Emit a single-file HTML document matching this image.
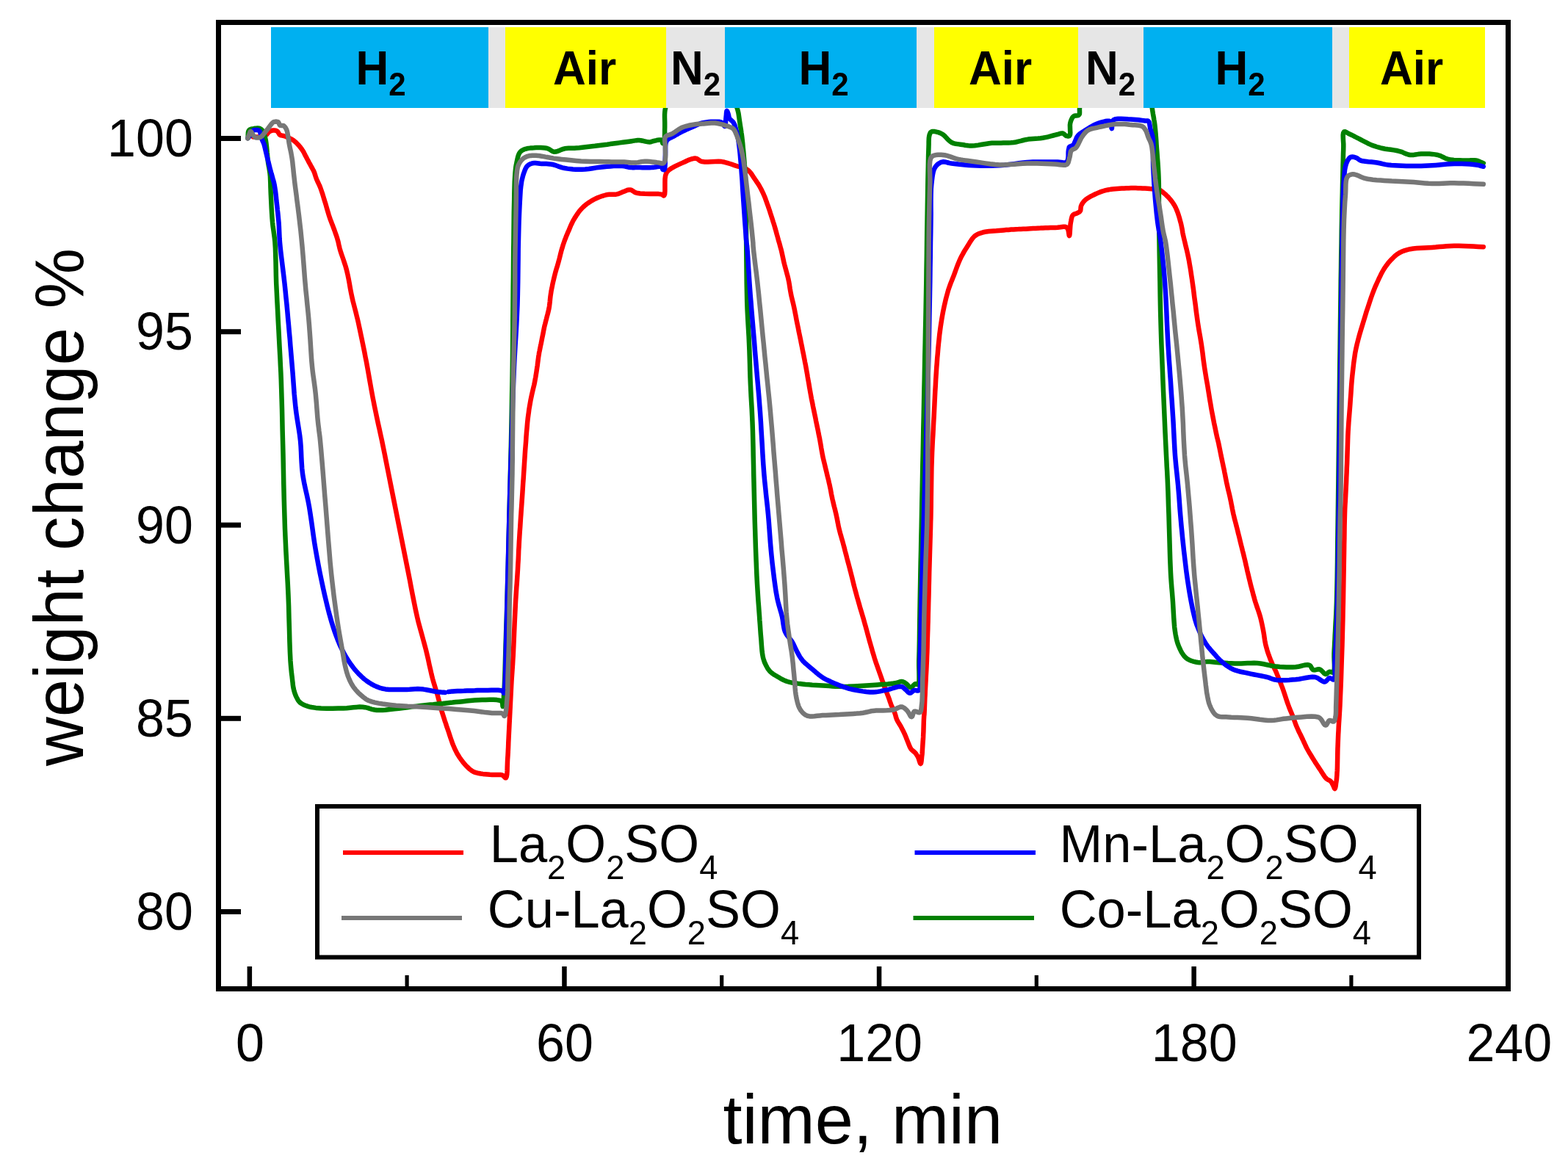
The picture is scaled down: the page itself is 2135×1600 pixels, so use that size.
<!DOCTYPE html>
<html><head><meta charset="utf-8"><title>weight change</title>
<style>html,body{margin:0;padding:0;background:#fff;}svg{display:block;}
text{font-family:"Liberation Sans",Arial,sans-serif;fill:#000;}</style></head>
<body><svg xmlns="http://www.w3.org/2000/svg" width="2135" height="1600" viewBox="0 0 2135 1600">
<rect x="0" y="0" width="2135" height="1600" fill="#fff"/>

<g fill="none" stroke-width="6.5" stroke-linejoin="round" stroke-linecap="round">
<polyline stroke="#ff0000" points="345.0,186.5 346.2,186.5 347.4,186.5 348.6,186.5 349.8,186.5 350.9,186.5 352.0,186.5 352.9,186.5 353.8,186.4 354.6,186.3 355.5,186.2 356.3,186.1 357.0,186.0 357.6,185.9 358.1,185.7 358.6,185.6 359.1,185.4 359.5,185.2 360.0,185.0 360.4,184.8 360.8,184.7 361.2,184.5 361.6,184.3 362.1,184.0 362.5,183.8 363.2,183.1 364.0,182.2 364.8,181.2 365.7,180.3 366.6,179.4 367.5,178.8 368.5,178.3 369.5,178.0 370.6,177.7 371.7,177.6 372.8,177.5 373.8,177.5 374.4,177.6 375.1,177.7 375.7,177.9 376.3,178.1 376.9,178.4 377.5,178.8 378.2,179.4 378.8,180.3 379.3,181.2 379.9,182.2 380.5,183.1 381.2,183.8 382.0,184.1 382.8,184.4 383.6,184.5 384.4,184.6 385.3,184.8 386.2,185.0 387.7,185.5 389.2,186.0 390.9,186.7 392.5,187.3 394.1,188.0 395.6,188.8 396.8,189.4 397.8,190.0 398.9,190.7 399.9,191.4 400.9,192.2 401.9,193.0 403.0,194.0 404.0,195.0 405.1,196.1 406.1,197.2 407.1,198.3 408.0,199.4 408.8,200.4 409.6,201.4 410.3,202.4 411.1,203.4 411.8,204.5 412.5,205.6 413.4,207.0 414.2,208.6 415.0,210.2 415.8,211.8 416.7,213.4 417.5,215.0 418.3,216.6 419.2,218.1 420.0,219.7 420.8,221.3 421.7,222.8 422.5,224.4 423.4,226.0 424.2,227.5 425.1,229.0 425.9,230.6 426.8,232.1 427.5,233.8 428.2,235.4 428.7,237.1 429.3,238.8 429.8,240.5 430.4,242.3 431.0,244.0 431.8,245.8 432.6,247.5 433.4,249.3 434.3,251.1 435.2,253.0 436.0,255.0 437.1,258.0 438.2,261.2 439.3,264.6 440.4,268.1 441.4,271.6 442.5,275.0 443.6,278.5 444.6,282.1 445.6,285.6 446.7,289.2 447.7,292.7 448.8,296.0 449.8,298.9 450.9,301.7 451.9,304.4 453.0,307.1 454.0,309.8 455.0,312.5 455.9,315.0 456.8,317.6 457.7,320.1 458.5,322.6 459.3,325.1 460.0,327.5 460.6,329.6 461.0,331.6 461.4,333.5 461.9,335.5 462.4,337.7 463.0,340.0 464.2,343.9 465.7,348.2 467.3,352.8 468.9,357.6 470.5,362.5 471.9,367.5 473.3,373.4 474.6,379.7 475.8,386.1 476.9,392.6 478.1,398.9 479.4,405.0 480.6,410.2 481.9,415.3 483.2,420.3 484.5,425.3 485.7,430.2 486.9,435.0 487.9,439.4 488.8,443.6 489.7,447.8 490.6,452.0 491.5,456.4 492.5,461.0 493.7,466.9 495.0,473.1 496.3,479.5 497.5,486.0 498.8,492.4 500.0,498.8 501.1,505.0 502.2,511.3 503.3,517.6 504.4,523.8 505.5,530.0 506.6,536.0 507.6,541.5 508.7,546.9 509.7,552.2 510.8,557.4 511.9,562.7 513.0,568.0 514.1,573.2 515.2,578.3 516.4,583.4 517.5,588.6 518.7,594.1 520.0,600.0 521.8,608.9 523.8,618.6 525.8,628.8 527.9,639.3 530.0,649.8 532.0,660.0 534.0,670.0 536.0,680.0 538.0,690.0 540.0,700.0 542.0,710.0 544.0,720.0 546.0,730.0 548.0,740.0 550.0,750.0 552.0,760.0 554.0,770.0 556.0,780.0 558.0,790.1 559.9,800.3 561.9,810.6 563.9,820.7 565.9,830.5 568.0,840.0 569.9,847.9 572.0,855.6 574.1,863.1 576.1,870.5 578.1,877.8 580.0,885.0 581.6,891.8 583.2,898.6 584.6,905.3 586.1,911.8 587.5,918.1 589.0,924.0 590.2,928.3 591.4,932.3 592.6,936.2 593.7,939.9 594.9,943.7 596.0,947.5 597.0,951.3 598.0,955.0 599.0,958.8 599.9,962.5 600.9,966.3 602.0,970.0 603.2,973.8 604.4,977.5 605.6,981.3 606.9,985.0 608.1,988.8 609.4,992.5 610.7,996.3 612.0,1000.3 613.3,1004.2 614.6,1008.0 615.9,1011.7 617.2,1015.0 618.2,1017.3 619.1,1019.4 620.0,1021.3 621.0,1023.2 621.9,1025.1 623.0,1027.0 624.1,1028.8 625.3,1030.7 626.5,1032.5 627.7,1034.2 629.0,1035.9 630.2,1037.5 631.3,1038.9 632.4,1040.2 633.5,1041.5 634.7,1042.7 635.8,1043.9 637.0,1045.0 638.1,1046.0 639.2,1047.1 640.4,1048.0 641.6,1048.9 642.8,1049.8 644.0,1050.5 645.2,1051.1 646.5,1051.6 647.7,1052.0 649.0,1052.3 650.5,1052.7 652.0,1053.0 654.6,1053.5 657.5,1053.9 660.7,1054.2 663.9,1054.5 667.0,1054.8 670.0,1055.0 672.5,1055.1 675.1,1055.0 677.6,1054.9 680.0,1054.9 682.2,1055.1 684.0,1055.5 685.0,1056.1 685.9,1057.0 686.7,1057.9 687.5,1058.7 688.1,1059.2 688.8,1059.3 689.7,1057.7 690.3,1054.4 690.6,1049.9 690.7,1044.6 690.9,1039.3 691.1,1034.4 691.5,1028.8 691.8,1023.0 692.1,1017.0 692.3,1010.9 692.6,1004.8 692.9,998.8 693.2,992.9 693.5,986.9 693.8,981.0 694.1,975.0 694.4,969.0 694.7,963.1 695.0,957.2 695.3,951.2 695.6,945.3 695.9,939.4 696.2,933.4 696.5,927.5 696.9,921.6 697.3,915.7 697.7,909.9 698.1,904.0 698.4,898.0 698.8,891.9 699.1,885.1 699.4,878.1 699.7,871.0 700.0,863.9 700.3,856.9 700.6,850.0 700.9,843.6 701.2,837.3 701.5,831.1 701.8,824.9 702.1,818.7 702.5,812.5 702.9,806.2 703.3,800.0 703.8,793.8 704.2,787.5 704.6,781.3 705.0,775.0 705.3,768.8 705.7,762.5 706.0,756.2 706.2,750.0 706.6,743.7 706.9,737.5 707.3,731.1 707.7,724.5 708.2,717.9 708.6,711.5 709.0,705.4 709.4,700.0 709.6,696.8 709.8,693.9 710.0,691.2 710.2,688.6 710.4,685.7 710.6,682.5 711.0,677.1 711.4,671.0 711.8,664.6 712.2,658.0 712.7,651.4 713.1,645.0 713.5,638.7 713.9,632.5 714.3,626.2 714.7,620.0 715.1,613.7 715.6,607.5 716.1,601.2 716.5,594.7 717.0,588.3 717.6,581.9 718.1,575.8 718.7,570.0 719.3,565.5 719.9,561.3 720.4,557.2 721.1,553.1 721.8,549.1 722.5,545.0 723.4,540.8 724.3,536.5 725.3,532.3 726.3,528.1 727.3,524.0 728.1,520.0 728.7,516.7 729.3,513.5 729.8,510.3 730.3,507.2 730.8,504.1 731.2,501.0 731.7,497.9 732.1,494.7 732.5,491.5 732.9,488.4 733.3,485.4 733.8,482.5 734.1,480.3 734.6,478.1 735.0,476.1 735.4,474.1 735.8,472.1 736.2,470.0 736.7,467.9 737.1,465.8 737.5,463.8 737.9,461.7 738.3,459.6 738.8,457.5 739.2,455.4 739.6,453.3 740.0,451.2 740.4,449.2 740.8,447.1 741.2,445.0 741.7,442.9 742.3,440.8 742.8,438.7 743.3,436.7 743.9,434.6 744.4,432.5 744.9,430.5 745.5,428.4 746.0,426.4 746.5,424.4 747.0,422.3 747.5,420.0 748.0,416.9 748.4,413.7 748.8,410.3 749.1,406.8 749.5,403.4 750.0,400.0 750.5,396.7 751.1,393.5 751.8,390.2 752.4,387.0 753.1,383.9 753.8,381.0 754.3,378.8 754.8,376.7 755.3,374.7 755.8,372.7 756.3,370.8 756.9,368.8 757.5,366.7 758.1,364.6 758.8,362.5 759.4,360.4 760.0,358.3 760.6,356.2 761.1,354.2 761.7,352.1 762.2,350.0 762.7,347.9 763.2,345.8 763.8,343.8 764.3,341.6 764.9,339.5 765.6,337.4 766.2,335.3 766.8,333.2 767.5,331.2 768.1,329.5 768.7,327.8 769.3,326.1 770.0,324.5 770.6,322.9 771.2,321.2 771.9,319.8 772.5,318.3 773.1,316.8 773.7,315.4 774.4,314.0 775.0,312.5 775.6,311.0 776.2,309.6 776.8,308.1 777.4,306.6 778.1,305.2 778.8,303.8 779.5,302.3 780.3,300.8 781.1,299.3 782.0,297.9 782.8,296.4 783.8,295.0 784.7,293.5 785.7,292.0 786.8,290.5 787.8,289.0 788.9,287.6 790.0,286.2 791.0,285.1 792.0,284.0 793.0,283.0 794.0,282.0 795.1,281.0 796.2,280.0 797.6,278.9 799.0,277.8 800.4,276.7 801.9,275.7 803.5,274.7 805.0,273.8 806.6,272.8 808.2,271.9 809.8,271.1 811.5,270.3 813.2,269.5 815.0,268.7 817.0,268.0 819.0,267.3 821.1,266.6 823.2,266.0 825.4,265.4 827.5,265.0 829.6,264.8 831.7,264.7 833.9,264.7 836.0,264.7 838.1,264.7 840.0,264.4 841.6,264.0 843.1,263.4 844.6,262.8 846.1,262.2 847.5,261.6 849.0,261.0 850.5,260.4 852.0,259.8 853.5,259.2 855.0,258.7 856.5,258.4 858.0,258.4 859.4,258.7 860.7,259.4 862.1,260.3 863.5,261.2 865.0,262.1 866.9,262.8 871.6,263.5 877.8,263.8 884.6,263.9 891.2,263.9 896.8,264.1 900.7,264.6 901.6,264.9 902.3,265.4 902.9,265.9 903.4,266.3 903.8,266.5 904.3,266.4 905.1,264.4 905.4,260.2 905.4,254.8 905.4,249.0 905.5,243.6 906.0,239.7 906.4,238.2 906.8,236.9 907.3,235.8 907.9,234.7 908.6,233.7 909.6,232.6 911.9,230.7 914.8,228.8 918.3,226.9 921.9,225.1 925.6,223.4 929.0,221.9 932.1,220.5 935.2,219.0 938.4,217.6 941.5,216.5 944.4,215.8 947.0,215.6 948.6,215.9 950.0,216.7 951.3,217.6 952.6,218.6 954.1,219.5 955.9,220.1 959.5,220.5 963.8,220.5 968.5,220.2 973.4,219.9 978.2,219.8 982.6,220.1 986.4,220.8 990.2,221.8 994.0,223.0 997.6,224.2 1000.9,225.4 1004.0,226.3 1005.9,226.8 1007.7,227.2 1009.4,227.5 1011.0,227.9 1012.5,228.4 1014.0,229.0 1015.3,229.7 1016.5,230.4 1017.7,231.2 1018.8,232.0 1019.9,233.0 1020.9,234.0 1022.0,235.3 1023.0,236.6 1024.0,238.1 1025.0,239.6 1026.0,241.2 1027.0,242.8 1028.2,244.4 1029.3,246.1 1030.5,247.9 1031.7,249.6 1032.9,251.4 1034.0,253.2 1035.1,255.2 1036.2,257.2 1037.2,259.2 1038.2,261.3 1039.2,263.4 1040.1,265.5 1041.1,267.8 1042.0,270.0 1042.8,272.4 1043.7,274.7 1044.5,277.1 1045.4,279.5 1046.3,282.1 1047.2,284.7 1048.1,287.4 1048.9,290.0 1049.8,292.7 1050.6,295.2 1051.4,297.6 1052.1,299.9 1052.8,302.2 1053.6,304.5 1054.3,306.9 1055.0,309.2 1055.7,311.8 1056.5,314.4 1057.2,317.1 1057.9,319.7 1058.7,322.4 1059.4,325.0 1060.1,327.6 1060.9,330.2 1061.6,332.7 1062.3,335.3 1063.0,338.0 1063.8,340.7 1064.5,343.8 1065.2,347.0 1065.9,350.2 1066.6,353.5 1067.3,356.7 1068.1,360.0 1069.0,363.3 1069.9,366.6 1070.8,370.0 1071.7,373.3 1072.6,376.7 1073.4,380.0 1074.1,383.3 1074.7,386.7 1075.2,390.0 1075.7,393.3 1076.3,396.7 1076.9,400.0 1077.6,403.3 1078.4,406.7 1079.2,410.0 1080.0,413.3 1080.8,416.7 1081.5,420.0 1082.2,423.3 1082.8,426.7 1083.5,430.0 1084.1,433.3 1084.7,436.7 1085.4,440.0 1086.1,443.3 1086.8,446.7 1087.4,450.0 1088.1,453.3 1088.8,456.7 1089.5,460.0 1090.2,463.3 1090.8,466.7 1091.5,470.0 1092.2,473.3 1092.8,476.7 1093.5,480.0 1094.2,483.3 1094.8,486.7 1095.5,490.0 1096.1,493.3 1096.8,496.7 1097.4,500.0 1098.0,503.3 1098.6,506.7 1099.2,510.0 1099.7,513.3 1100.3,516.7 1100.9,520.0 1101.5,523.3 1102.0,526.7 1102.6,530.0 1103.2,533.3 1103.8,536.7 1104.4,540.0 1105.0,543.3 1105.7,546.7 1106.4,550.0 1107.0,553.3 1107.7,556.7 1108.4,560.0 1109.1,563.3 1109.8,566.7 1110.5,570.0 1111.1,573.3 1111.8,576.7 1112.5,580.0 1113.2,583.3 1113.9,586.7 1114.5,590.0 1115.2,593.3 1115.9,596.7 1116.5,600.0 1117.1,603.3 1117.7,606.7 1118.2,610.0 1118.8,613.3 1119.4,616.7 1120.0,620.0 1120.7,623.3 1121.5,626.7 1122.3,630.0 1123.1,633.3 1123.9,636.7 1124.7,640.0 1125.5,643.3 1126.3,646.7 1127.1,650.0 1128.0,653.3 1128.7,656.7 1129.5,660.0 1130.2,663.3 1130.9,666.7 1131.5,670.0 1132.1,673.3 1132.8,676.7 1133.5,680.0 1134.3,683.3 1135.1,686.7 1135.9,690.0 1136.8,693.3 1137.6,696.7 1138.4,700.0 1139.1,703.3 1139.8,706.7 1140.4,710.0 1141.1,713.3 1141.7,716.7 1142.5,720.0 1143.3,723.3 1144.2,726.7 1145.2,730.0 1146.1,733.3 1147.1,736.7 1148.0,740.0 1148.9,743.3 1149.8,746.7 1150.6,750.0 1151.5,753.3 1152.4,756.7 1153.2,760.0 1154.1,763.3 1155.0,766.7 1155.9,770.0 1156.8,773.3 1157.6,776.7 1158.5,780.0 1159.3,783.3 1160.2,786.7 1161.0,790.0 1161.8,793.3 1162.6,796.7 1163.5,800.0 1164.4,803.3 1165.3,806.7 1166.2,810.0 1167.1,813.3 1168.1,816.7 1169.0,820.0 1170.0,823.3 1170.9,826.7 1171.9,830.0 1172.9,833.3 1173.9,836.7 1174.9,840.0 1175.9,843.3 1176.8,846.7 1177.7,850.0 1178.7,853.3 1179.6,856.7 1180.5,860.0 1181.4,863.3 1182.3,866.7 1183.2,870.0 1184.1,873.3 1185.1,876.7 1186.0,880.0 1187.0,883.3 1187.9,886.7 1188.9,890.0 1189.9,893.3 1190.9,896.7 1192.0,900.0 1193.1,903.4 1194.3,906.7 1195.5,910.1 1196.7,913.5 1197.9,916.8 1199.0,920.0 1200.0,922.9 1201.0,925.9 1202.0,928.7 1203.0,931.6 1204.0,934.3 1205.0,937.0 1205.9,939.3 1206.7,941.5 1207.6,943.7 1208.4,945.9 1209.2,947.9 1210.0,950.0 1210.6,951.7 1211.2,953.4 1211.7,955.1 1212.3,956.7 1212.9,958.4 1213.5,960.0 1214.2,961.7 1215.0,963.3 1215.8,965.0 1216.6,966.7 1217.3,968.3 1218.0,970.0 1218.6,971.7 1219.1,973.3 1219.6,975.0 1220.0,976.7 1220.6,978.4 1221.2,980.0 1222.1,981.7 1223.0,983.4 1224.0,985.0 1225.0,986.7 1226.1,988.3 1227.0,990.0 1227.9,991.7 1228.7,993.3 1229.6,995.0 1230.4,996.6 1231.2,998.3 1232.0,1000.0 1232.7,1001.7 1233.4,1003.3 1234.0,1005.0 1234.7,1006.7 1235.3,1008.3 1236.0,1010.0 1236.7,1011.7 1237.4,1013.5 1238.1,1015.3 1238.8,1017.0 1239.6,1018.6 1240.5,1020.0 1241.3,1021.0 1242.3,1021.8 1243.2,1022.6 1244.2,1023.4 1245.1,1024.1 1246.0,1025.0 1246.8,1025.9 1247.5,1026.9 1248.1,1027.8 1248.8,1028.8 1249.4,1029.9 1250.0,1031.0 1250.7,1032.6 1251.3,1034.5 1251.9,1036.5 1252.5,1038.3 1253.0,1039.5 1253.5,1040.0 1253.9,1039.5 1254.3,1038.1 1254.6,1036.2 1254.8,1034.1 1255.0,1031.9 1255.2,1030.0 1255.4,1028.4 1255.6,1026.8 1255.7,1025.2 1255.8,1023.6 1255.9,1021.9 1256.0,1020.0 1256.2,1017.1 1256.4,1013.8 1256.6,1010.4 1256.9,1006.9 1257.1,1003.4 1257.2,1000.0 1257.4,996.6 1257.5,993.1 1257.6,989.6 1257.7,986.2 1257.8,982.9 1257.9,980.0 1258.0,978.2 1258.1,976.5 1258.2,974.9 1258.4,973.4 1258.5,971.7 1258.6,970.0 1258.7,967.7 1258.8,965.3 1258.9,962.8 1259.0,960.2 1259.1,957.6 1259.2,955.0 1259.3,952.2 1259.4,949.5 1259.6,946.7 1259.7,943.9 1259.8,940.8 1260.0,937.5 1260.3,932.1 1260.6,926.0 1260.9,919.6 1261.3,913.0 1261.6,906.4 1261.9,900.0 1262.1,893.7 1262.4,887.4 1262.6,881.1 1262.7,874.8 1262.9,868.6 1263.1,862.5 1263.3,857.1 1263.4,851.9 1263.6,846.7 1263.7,841.5 1263.8,836.0 1264.0,830.0 1264.2,820.9 1264.5,810.9 1264.7,800.4 1265.0,789.8 1265.2,779.5 1265.5,770.0 1265.7,762.8 1265.9,755.9 1266.1,749.1 1266.3,742.6 1266.5,736.2 1266.7,730.0 1266.8,724.9 1267.0,720.2 1267.1,715.6 1267.2,710.8 1267.4,705.7 1267.5,700.0 1267.7,689.3 1267.8,676.9 1268.0,663.7 1268.2,650.1 1268.4,637.0 1268.8,625.0 1269.1,616.1 1269.5,607.6 1269.9,599.4 1270.4,591.3 1270.8,583.2 1271.2,575.0 1271.7,566.6 1272.1,558.1 1272.5,549.5 1272.9,541.1 1273.3,532.9 1273.8,525.0 1274.1,518.4 1274.5,512.1 1274.9,505.9 1275.3,499.8 1275.8,493.7 1276.2,487.5 1276.8,481.2 1277.3,474.8 1277.9,468.5 1278.6,462.2 1279.2,456.0 1280.0,450.0 1280.7,444.8 1281.5,439.6 1282.3,434.6 1283.1,429.7 1284.0,424.8 1285.0,420.0 1285.9,415.7 1286.9,411.4 1287.9,407.1 1289.0,403.0 1290.1,399.0 1291.2,395.0 1292.4,391.5 1293.6,388.2 1294.8,384.9 1296.1,381.7 1297.4,378.4 1298.8,375.0 1300.1,371.3 1301.5,367.5 1302.9,363.6 1304.4,359.8 1305.9,356.1 1307.5,352.5 1309.0,349.4 1310.7,346.4 1312.3,343.4 1314.0,340.5 1315.8,337.7 1317.5,335.0 1319.1,332.5 1320.6,329.9 1322.2,327.5 1323.8,325.1 1325.6,323.0 1327.5,321.2 1329.3,320.0 1331.3,318.9 1333.3,318.0 1335.4,317.3 1337.7,316.6 1340.0,316.0 1343.0,315.4 1346.3,315.0 1349.7,314.7 1353.1,314.5 1356.6,314.3 1360.0,314.0 1363.3,313.7 1366.7,313.4 1370.0,313.1 1373.3,312.9 1376.7,312.6 1380.0,312.4 1383.3,312.2 1386.7,312.1 1390.0,311.9 1393.3,311.8 1396.7,311.7 1400.0,311.5 1403.3,311.3 1406.7,311.1 1410.0,310.9 1413.3,310.7 1416.7,310.6 1420.0,310.4 1423.4,310.3 1426.9,310.2 1430.4,310.1 1433.8,310.0 1437.0,309.9 1440.0,309.8 1442.1,309.6 1444.2,309.3 1446.2,309.0 1448.0,308.8 1449.6,308.7 1451.0,309.0 1451.7,309.3 1452.3,309.7 1452.8,310.2 1453.2,310.7 1453.6,311.3 1454.0,312.0 1454.5,313.4 1454.9,315.3 1455.2,317.3 1455.5,319.1 1455.7,320.5 1456.0,321.0 1456.4,320.0 1456.7,317.3 1456.9,313.7 1457.2,309.6 1457.5,305.7 1458.0,302.5 1458.4,300.6 1458.7,298.7 1459.1,296.9 1459.6,295.3 1460.2,293.8 1461.0,292.7 1461.7,292.1 1462.5,291.7 1463.4,291.4 1464.3,291.1 1465.2,290.9 1466.0,290.5 1466.8,290.1 1467.7,289.7 1468.6,289.2 1469.4,288.8 1470.1,288.2 1470.7,287.5 1471.2,286.5 1471.4,285.3 1471.5,284.0 1471.6,282.6 1471.8,281.3 1472.2,280.0 1472.8,278.7 1473.5,277.4 1474.4,276.1 1475.3,274.9 1476.3,273.7 1477.5,272.5 1479.2,271.1 1481.2,269.8 1483.3,268.5 1485.6,267.2 1487.8,266.1 1490.0,265.0 1492.1,264.0 1494.1,263.1 1496.2,262.2 1498.3,261.4 1500.4,260.7 1502.5,260.0 1504.5,259.4 1506.5,258.9 1508.6,258.5 1510.6,258.1 1512.8,257.8 1515.0,257.5 1517.9,257.2 1521.0,256.9 1524.1,256.7 1527.4,256.5 1530.6,256.4 1533.8,256.2 1536.9,256.2 1540.0,256.1 1543.1,256.1 1546.3,256.1 1549.4,256.2 1552.5,256.2 1555.7,256.4 1559.1,256.5 1562.4,256.7 1565.6,257.0 1568.6,257.2 1571.2,257.5 1572.7,257.6 1574.1,257.7 1575.3,257.9 1576.5,258.0 1577.6,258.3 1578.8,258.7 1580.1,259.3 1581.3,260.1 1582.5,261.0 1583.7,262.0 1584.8,263.0 1586.0,264.0 1587.3,265.1 1588.5,266.3 1589.8,267.5 1591.0,268.8 1592.2,270.1 1593.4,271.5 1594.7,273.1 1596.0,274.8 1597.2,276.5 1598.4,278.4 1599.6,280.4 1600.7,282.5 1602.1,285.7 1603.5,289.3 1604.8,293.1 1606.0,297.0 1607.0,300.8 1608.0,304.4 1608.6,307.1 1609.1,309.6 1609.6,312.0 1610.0,314.5 1610.4,317.1 1611.0,320.0 1612.0,324.4 1613.2,329.3 1614.4,334.4 1615.7,339.6 1616.9,344.9 1618.0,350.0 1619.0,355.0 1619.8,360.0 1620.7,365.0 1621.5,370.0 1622.2,375.0 1623.0,380.0 1623.7,385.0 1624.4,390.0 1625.1,395.0 1625.7,400.0 1626.3,405.0 1627.0,410.0 1627.7,415.0 1628.3,420.0 1628.9,425.0 1629.6,430.0 1630.3,435.0 1631.0,440.0 1631.8,445.0 1632.6,450.0 1633.5,455.0 1634.4,460.0 1635.2,465.0 1636.0,470.0 1636.7,475.0 1637.4,480.0 1638.0,485.0 1638.6,490.0 1639.3,495.0 1640.0,500.0 1640.8,505.0 1641.6,510.0 1642.4,515.0 1643.3,520.0 1644.2,525.0 1645.0,530.0 1645.8,535.0 1646.6,540.0 1647.4,545.0 1648.3,550.0 1649.1,555.0 1650.0,560.0 1651.0,565.1 1652.0,570.4 1653.0,575.7 1654.1,580.8 1655.1,585.6 1656.0,590.0 1656.6,592.8 1657.2,595.4 1657.8,597.8 1658.4,600.2 1659.0,602.6 1659.5,605.0 1660.0,607.5 1660.5,609.9 1661.0,612.4 1661.5,614.8 1662.0,617.4 1662.5,620.0 1663.2,623.2 1663.9,626.5 1664.6,629.8 1665.3,633.2 1666.0,636.6 1666.8,640.0 1667.4,643.3 1668.1,646.7 1668.7,650.0 1669.4,653.3 1670.0,656.7 1670.8,660.0 1671.5,663.3 1672.3,666.7 1673.1,670.0 1673.9,673.3 1674.7,676.7 1675.4,680.0 1676.1,683.3 1676.7,686.7 1677.4,690.0 1678.0,693.3 1678.7,696.7 1679.4,700.0 1680.2,703.3 1681.0,706.7 1681.9,710.0 1682.8,713.3 1683.6,716.7 1684.5,720.0 1685.3,723.3 1686.1,726.7 1687.0,730.0 1687.8,733.3 1688.6,736.7 1689.4,740.0 1690.2,743.3 1691.1,746.7 1691.9,750.0 1692.8,753.3 1693.6,756.7 1694.4,760.0 1695.2,763.3 1696.0,766.7 1696.7,770.0 1697.5,773.3 1698.2,776.7 1699.0,780.0 1699.8,783.3 1700.6,786.7 1701.4,790.0 1702.2,793.3 1703.0,796.7 1703.9,800.0 1704.8,803.3 1705.7,806.7 1706.5,810.0 1707.5,813.3 1708.4,816.7 1709.4,820.0 1710.5,823.3 1711.6,826.6 1712.8,830.0 1713.9,833.3 1715.0,836.6 1716.0,840.0 1716.9,843.5 1717.7,847.0 1718.5,850.6 1719.2,854.2 1719.9,857.6 1720.5,861.0 1721.0,863.9 1721.4,866.7 1721.8,869.4 1722.2,872.1 1722.7,874.8 1723.2,877.5 1723.9,880.1 1724.6,882.7 1725.3,885.2 1726.1,887.7 1726.9,890.1 1727.8,892.5 1728.5,894.5 1729.2,896.4 1729.9,898.2 1730.7,900.1 1731.5,901.9 1732.2,903.8 1733.1,905.6 1734.0,907.5 1734.9,909.4 1735.8,911.3 1736.7,913.1 1737.5,915.0 1738.3,916.8 1739.0,918.7 1739.8,920.5 1740.5,922.3 1741.3,924.2 1742.0,926.0 1742.7,927.9 1743.5,929.7 1744.2,931.5 1744.9,933.4 1745.7,935.4 1746.5,937.5 1747.7,940.9 1748.9,944.6 1750.2,948.6 1751.5,952.6 1752.8,956.4 1754.1,960.0 1755.1,962.7 1756.1,965.2 1757.1,967.7 1758.1,970.1 1759.1,972.5 1760.1,975.0 1761.0,977.5 1762.0,980.0 1762.9,982.5 1763.8,985.0 1764.7,987.5 1765.8,990.0 1766.9,992.5 1768.0,995.0 1769.2,997.5 1770.5,1000.0 1771.7,1002.5 1772.9,1005.0 1774.1,1007.5 1775.2,1010.0 1776.4,1012.5 1777.5,1015.0 1778.7,1017.5 1780.0,1020.0 1781.4,1022.5 1782.8,1025.0 1784.4,1027.5 1785.9,1030.0 1787.4,1032.5 1789.0,1035.0 1790.6,1037.6 1792.3,1040.2 1794.0,1042.8 1795.7,1045.4 1797.3,1047.8 1798.8,1050.0 1799.7,1051.5 1800.7,1053.0 1801.5,1054.4 1802.4,1055.7 1803.2,1056.9 1804.0,1058.0 1804.5,1058.6 1805.0,1059.2 1805.5,1059.6 1805.9,1060.1 1806.4,1060.5 1807.0,1061.0 1807.8,1061.5 1808.6,1062.0 1809.5,1062.4 1810.4,1062.8 1811.2,1063.4 1812.0,1064.0 1812.7,1064.8 1813.4,1065.8 1813.9,1066.9 1814.5,1068.0 1815.0,1069.0 1815.5,1070.0 1815.9,1070.8 1816.2,1071.7 1816.6,1072.6 1816.9,1073.3 1817.2,1073.8 1817.5,1074.0 1817.9,1073.5 1818.2,1072.4 1818.6,1070.7 1818.9,1068.8 1819.1,1066.8 1819.4,1065.0 1819.7,1062.8 1820.0,1060.5 1820.2,1058.1 1820.4,1055.5 1820.5,1052.8 1820.7,1050.0 1820.9,1045.6 1821.0,1040.8 1821.1,1035.6 1821.2,1030.4 1821.3,1025.1 1821.4,1020.0 1821.6,1015.0 1821.8,1010.0 1822.0,1005.0 1822.2,1000.0 1822.5,995.0 1822.7,990.0 1823.0,985.1 1823.3,980.5 1823.6,975.8 1823.9,970.9 1824.2,965.7 1824.5,960.0 1824.9,950.0 1825.4,938.8 1825.9,926.8 1826.3,914.4 1826.7,902.0 1827.1,890.0 1827.5,878.3 1827.8,866.7 1828.1,855.0 1828.4,843.3 1828.6,831.7 1828.9,820.0 1829.1,808.2 1829.3,796.2 1829.5,784.3 1829.7,772.5 1829.9,761.0 1830.1,750.0 1830.2,741.1 1830.4,732.4 1830.5,724.0 1830.6,715.8 1830.8,707.8 1831.0,700.0 1831.2,693.4 1831.5,687.1 1831.9,680.9 1832.2,674.8 1832.5,668.7 1832.8,662.5 1833.1,656.3 1833.3,650.0 1833.6,643.8 1833.8,637.5 1834.1,631.3 1834.3,625.0 1834.5,618.7 1834.7,612.5 1834.9,606.2 1835.1,600.0 1835.3,593.7 1835.6,587.5 1836.0,581.2 1836.4,575.0 1836.9,568.7 1837.4,562.5 1837.9,556.2 1838.4,550.0 1838.8,543.7 1839.3,537.5 1839.7,531.2 1840.1,525.0 1840.6,518.7 1841.2,512.5 1841.9,506.2 1842.6,500.0 1843.3,493.7 1844.2,487.5 1845.1,481.2 1846.3,475.0 1847.7,468.7 1849.3,462.5 1851.0,456.2 1852.8,450.0 1854.7,443.7 1856.6,437.5 1858.6,431.0 1860.6,424.3 1862.8,417.7 1864.9,411.2 1866.9,405.3 1868.8,400.0 1869.9,397.1 1870.9,394.5 1871.9,392.1 1872.8,389.8 1873.9,387.5 1875.0,385.0 1876.4,382.0 1877.8,378.9 1879.3,375.8 1880.8,372.7 1882.4,369.8 1884.0,367.0 1885.4,364.8 1886.8,362.7 1888.3,360.7 1889.8,358.7 1891.3,356.9 1893.0,355.0 1894.8,353.1 1896.7,351.2 1898.6,349.3 1900.7,347.5 1902.8,345.9 1905.0,344.5 1907.3,343.3 1909.6,342.3 1912.0,341.4 1914.5,340.6 1917.1,339.9 1920.0,339.2 1924.4,338.5 1929.2,338.1 1934.3,337.8 1939.6,337.5 1944.9,337.3 1950.0,337.0 1955.0,336.6 1959.8,336.1 1964.7,335.7 1969.7,335.3 1974.8,334.9 1980.0,334.8 1986.3,334.7 1992.8,334.9 1999.5,335.2 2006.3,335.6 2013.1,335.9 2019.8,336.2"/>
<polyline stroke="#008000" points="337.5,188.0 337.7,186.2 337.7,184.2 337.8,182.2 337.9,180.4 338.3,178.8 339.0,177.5 339.9,176.7 341.0,176.1 342.3,175.7 343.6,175.4 345.0,175.2 346.2,175.0 347.5,174.8 348.9,174.7 350.2,174.6 351.5,174.6 352.7,174.7 353.8,175.0 354.4,175.3 355.0,175.6 355.5,176.0 356.0,176.4 356.5,176.9 357.0,177.5 357.6,178.3 358.1,179.3 358.7,180.3 359.1,181.5 359.6,182.6 360.0,183.8 360.4,185.0 360.8,186.3 361.1,187.7 361.4,189.1 361.7,190.5 362.0,192.0 362.3,194.0 362.6,196.1 362.8,198.2 363.1,200.5 363.3,202.7 363.5,205.0 363.7,207.6 364.0,210.2 364.2,212.9 364.4,215.6 364.7,218.3 365.0,221.0 365.4,223.5 365.8,225.9 366.3,228.2 366.7,230.6 367.1,233.2 367.5,236.0 367.9,240.2 368.1,244.8 368.3,249.7 368.4,254.7 368.6,259.8 368.8,265.0 369.1,271.0 369.4,277.4 369.7,283.8 370.1,290.3 370.5,296.5 371.0,302.5 371.5,307.2 372.1,311.6 372.7,315.9 373.3,320.3 373.9,324.9 374.4,330.0 374.9,338.1 375.2,346.9 375.5,356.3 375.7,366.0 375.9,376.0 376.2,386.0 376.8,398.0 377.4,410.6 378.1,423.5 378.7,436.4 379.4,449.0 380.0,461.0 380.5,470.8 381.0,480.0 381.5,489.1 381.9,498.2 382.4,507.6 382.8,517.5 383.2,530.2 383.6,543.3 384.0,556.8 384.3,570.8 384.6,585.2 385.0,600.0 385.5,618.9 385.9,639.0 386.3,659.7 386.8,680.4 387.4,700.7 388.0,720.0 388.7,735.8 389.4,751.0 390.2,765.8 391.0,780.5 391.8,795.1 392.5,810.0 393.1,825.6 393.5,842.1 394.0,858.5 394.4,874.1 394.9,888.2 395.5,900.0 395.9,905.2 396.3,909.8 396.7,913.9 397.1,917.8 397.6,921.4 398.0,925.0 398.3,927.6 398.6,930.0 398.8,932.4 399.1,934.6 399.5,936.8 400.0,939.0 400.5,941.0 401.1,942.9 401.7,944.8 402.4,946.6 403.2,948.4 404.0,950.0 404.7,951.3 405.4,952.6 406.1,953.8 406.9,954.9 407.9,956.0 409.0,957.0 410.9,958.3 413.0,959.5 415.4,960.5 418.0,961.4 420.9,962.3 424.0,963.0 430.0,963.9 437.2,964.4 445.0,964.7 452.9,964.7 460.6,964.6 467.5,964.5 472.3,964.3 476.9,963.8 481.3,963.3 485.5,962.9 489.7,962.6 493.7,962.7 497.1,963.2 500.3,963.9 503.4,964.9 506.5,965.8 509.7,966.5 513.0,967.0 516.9,967.1 520.8,967.0 524.8,966.7 528.9,966.2 533.1,965.8 537.5,965.3 543.0,964.7 548.9,964.0 554.9,963.2 561.0,962.4 566.9,961.7 572.5,961.0 577.1,960.5 581.5,960.0 585.8,959.6 590.1,959.2 594.4,958.7 598.7,958.3 603.1,957.9 607.4,957.4 611.7,957.0 616.1,956.6 620.5,956.1 625.0,955.7 630.1,955.2 635.4,954.6 640.7,954.0 646.0,953.5 651.3,953.2 656.4,953.0 661.3,952.9 666.6,952.8 671.8,952.8 676.5,953.1 680.4,953.7 683.0,955.0 683.8,956.1 684.2,957.6 684.3,959.1 684.4,960.6 684.5,961.6 684.6,962.0 685.0,961.0 685.3,958.3 685.7,954.4 685.9,949.8 686.2,944.8 686.5,940.0 686.9,931.8 687.3,922.5 687.6,912.4 687.9,901.7 688.2,890.8 688.5,880.0 688.9,867.4 689.3,854.5 689.8,841.3 690.2,827.8 690.6,814.0 691.0,800.0 691.4,784.0 691.9,767.5 692.3,750.7 692.7,733.7 693.1,716.8 693.5,700.0 693.9,683.4 694.4,667.0 694.8,650.6 695.2,634.0 695.6,617.2 696.0,600.0 696.4,580.2 696.8,559.5 697.1,538.4 697.5,517.7 697.8,498.0 698.0,480.0 698.1,468.1 698.2,457.0 698.3,446.6 698.3,436.3 698.4,425.9 698.5,415.0 698.6,402.7 698.7,390.1 698.9,377.3 699.0,364.6 699.1,352.1 699.2,340.0 699.4,329.5 699.5,319.2 699.6,309.0 699.7,299.1 699.8,289.4 700.0,280.0 700.2,271.8 700.3,263.6 700.5,255.6 700.7,248.0 701.1,241.0 701.5,235.0 701.8,232.0 702.1,229.3 702.4,226.9 702.8,224.6 703.3,222.3 703.8,220.0 704.2,217.8 704.7,215.6 705.2,213.5 705.9,211.4 706.6,209.6 707.5,208.0 708.3,207.0 709.2,206.1 710.1,205.3 711.1,204.7 712.3,204.1 713.5,203.5 715.4,202.8 717.5,202.3 719.7,201.9 722.1,201.6 724.6,201.4 727.0,201.3 729.9,201.1 733.0,201.0 736.2,201.0 739.4,201.2 742.3,201.5 745.0,202.0 746.8,202.7 748.5,203.6 750.0,204.6 751.5,205.6 753.1,206.4 754.8,206.8 757.0,206.6 759.3,205.9 761.6,205.0 764.1,203.9 766.5,203.0 769.0,202.3 771.6,202.0 774.1,201.8 776.7,201.8 779.4,201.8 782.1,201.8 785.0,201.6 788.8,201.3 792.9,200.8 797.2,200.3 801.5,199.8 805.8,199.3 810.0,198.8 814.2,198.2 818.3,197.7 822.5,197.2 826.7,196.7 830.8,196.1 835.0,195.6 839.3,195.0 843.8,194.4 848.2,193.8 852.5,193.2 856.5,192.7 860.0,192.2 861.9,191.9 863.6,191.6 865.2,191.4 866.7,191.2 868.3,191.0 870.0,191.0 872.4,191.2 875.0,191.7 877.6,192.3 880.2,192.9 882.6,193.3 884.7,193.4 885.7,193.3 886.6,193.1 887.4,192.8 888.2,192.5 889.0,192.2 890.0,192.0 891.7,191.6 893.6,191.2 895.7,190.7 897.7,190.4 899.4,190.4 900.7,190.7 901.2,191.3 901.6,192.2 901.9,193.2 902.1,194.2 902.2,194.9 902.5,195.2 902.8,195.0 903.2,194.4 903.6,193.5 903.9,192.4 904.2,191.2 904.5,190.0 904.9,187.4 905.0,184.3 905.1,180.8 905.1,177.2 905.2,173.5 905.2,170.0 905.2,166.6 905.1,163.1 905.0,159.5 905.0,156.1 905.2,152.9 905.5,150.0 905.9,148.1 906.3,146.3 906.7,144.7 907.3,143.1 908.1,141.5 909.0,140.0 910.4,138.2 912.1,136.5 914.0,134.9 916.1,133.3 918.1,131.6 920.0,130.0"/>
<polyline stroke="#008000" points="995.0,130.0 996.5,132.9 998.1,135.7 999.7,138.6 1001.2,141.5 1002.6,144.4 1003.8,147.5 1004.7,150.8 1005.5,154.2 1006.0,157.6 1006.5,161.1 1007.0,164.6 1007.5,168.0 1008.0,171.2 1008.5,174.2 1009.0,177.3 1009.4,180.4 1009.9,183.6 1010.3,187.0 1010.8,191.3 1011.3,195.9 1011.7,200.7 1012.2,205.5 1012.6,210.3 1013.0,215.0 1013.4,219.4 1013.7,223.5 1014.1,227.5 1014.4,231.9 1014.7,237.0 1015.0,243.0 1015.5,263.9 1015.9,291.8 1016.1,323.8 1016.4,356.4 1016.7,386.5 1017.2,411.0 1017.6,422.2 1018.1,432.1 1018.6,441.1 1019.1,449.8 1019.6,458.4 1020.0,467.5 1020.4,476.9 1020.7,486.4 1021.0,495.8 1021.2,505.2 1021.5,514.5 1021.9,523.8 1022.3,532.3 1022.7,540.7 1023.2,549.0 1023.7,557.4 1024.1,566.0 1024.5,575.0 1024.9,586.0 1025.2,597.4 1025.5,609.2 1025.7,621.1 1026.0,633.1 1026.2,645.0 1026.5,657.4 1026.8,669.8 1027.1,682.3 1027.4,694.9 1027.7,707.5 1028.1,720.0 1028.5,732.7 1028.9,745.7 1029.4,758.7 1029.9,771.4 1030.4,783.6 1031.0,795.0 1031.5,803.3 1032.0,811.3 1032.5,818.9 1033.1,826.2 1033.6,833.3 1034.1,840.0 1034.4,845.0 1034.8,849.7 1035.1,854.2 1035.4,858.6 1035.7,863.0 1036.1,867.5 1036.5,872.2 1036.8,877.1 1037.2,882.1 1037.6,886.8 1038.2,891.2 1038.9,895.0 1039.5,897.2 1040.1,899.1 1040.7,901.0 1041.4,902.7 1042.2,904.3 1043.0,906.0 1043.8,907.5 1044.6,909.0 1045.4,910.4 1046.4,911.7 1047.4,913.1 1048.5,914.3 1049.9,915.6 1051.3,916.8 1052.9,917.9 1054.6,919.0 1056.3,920.0 1058.1,921.1 1060.2,922.3 1062.3,923.6 1064.6,924.8 1066.9,926.0 1069.4,927.1 1071.9,928.0 1075.0,928.9 1078.3,929.6 1081.7,930.2 1085.2,930.6 1088.8,931.1 1092.5,931.5 1096.8,932.0 1101.4,932.3 1106.0,932.7 1110.7,933.0 1115.4,933.2 1120.0,933.5 1124.5,933.8 1128.9,934.1 1133.3,934.4 1137.8,934.7 1142.5,934.8 1147.5,934.9 1154.8,934.8 1162.9,934.5 1171.4,934.1 1179.8,933.6 1187.8,933.0 1195.0,932.5 1199.8,932.1 1204.4,931.8 1208.9,931.4 1213.0,930.9 1216.7,930.5 1220.0,930.0 1221.6,929.6 1223.1,929.2 1224.4,928.7 1225.7,928.3 1226.9,928.1 1228.1,928.1 1229.2,928.3 1230.2,928.7 1231.2,929.2 1232.1,929.7 1233.1,930.4 1234.0,931.0 1235.0,931.9 1236.0,933.0 1237.0,934.1 1238.0,935.2 1239.0,935.9 1240.0,936.2 1241.0,935.9 1242.1,935.1 1243.2,933.9 1244.2,932.8 1245.3,931.8 1246.2,931.2 1246.9,931.2 1247.6,931.5 1248.3,931.8 1248.9,932.1 1249.5,932.2 1250.0,932.0 1251.0,929.8 1251.5,925.8 1251.5,920.3 1251.4,913.9 1251.2,906.9 1251.2,900.0 1251.6,886.5 1251.9,870.8 1252.1,853.5 1252.4,835.4 1252.7,817.3 1253.0,800.0 1253.3,783.3 1253.6,766.7 1254.0,750.0 1254.3,733.3 1254.7,716.7 1255.0,700.0 1255.3,683.3 1255.7,666.7 1256.0,650.0 1256.3,633.3 1256.7,616.7 1257.0,600.0 1257.3,583.3 1257.7,566.7 1258.0,550.0 1258.3,533.3 1258.7,516.7 1259.0,500.0 1259.3,483.3 1259.7,466.7 1260.0,450.0 1260.4,433.3 1260.7,416.7 1261.0,400.0 1261.3,383.3 1261.5,366.7 1261.8,350.0 1262.0,333.3 1262.2,316.7 1262.5,300.0 1262.8,282.3 1263.1,263.5 1263.4,244.6 1263.8,227.0 1264.1,211.7 1264.5,200.0 1264.6,196.4 1264.6,193.3 1264.7,190.5 1264.8,188.1 1265.1,185.9 1265.5,184.0 1265.8,183.0 1266.2,182.0 1266.6,181.1 1267.0,180.4 1267.6,179.8 1268.3,179.3 1269.5,179.0 1270.9,178.9 1272.6,179.1 1274.2,179.4 1275.9,179.8 1277.4,180.2 1278.7,180.6 1280.0,181.1 1281.2,181.7 1282.4,182.3 1283.5,183.0 1284.7,183.8 1286.0,184.9 1287.2,186.1 1288.4,187.5 1289.6,188.8 1290.8,190.1 1292.0,191.2 1292.9,191.9 1293.7,192.6 1294.6,193.2 1295.5,193.8 1296.4,194.3 1297.5,194.8 1299.3,195.4 1301.2,195.8 1303.4,196.1 1305.6,196.4 1307.8,196.7 1310.0,197.0 1312.1,197.3 1314.1,197.7 1316.2,198.0 1318.3,198.3 1320.6,198.4 1323.0,198.5 1327.2,198.2 1331.9,197.6 1337.0,196.8 1342.0,196.0 1346.6,195.2 1350.5,194.8 1352.3,194.7 1353.9,194.7 1355.3,194.7 1356.8,194.7 1358.3,194.7 1360.0,194.7 1362.9,194.7 1366.1,194.6 1369.6,194.6 1373.1,194.5 1376.6,194.3 1380.0,194.0 1383.3,193.5 1386.7,192.7 1390.0,191.9 1393.3,191.0 1396.7,190.2 1400.0,189.6 1403.3,189.2 1406.7,188.9 1410.0,188.7 1413.3,188.5 1416.7,188.2 1420.0,187.8 1423.5,187.1 1427.1,186.3 1430.7,185.4 1434.1,184.5 1437.3,183.7 1440.0,183.0 1441.4,182.6 1442.7,182.2 1443.8,181.8 1444.9,181.6 1446.0,181.4 1447.0,181.5 1447.9,181.9 1448.8,182.5 1449.6,183.2 1450.4,184.0 1451.2,184.6 1452.0,185.0 1452.8,185.2 1453.6,185.4 1454.4,185.4 1455.1,185.4 1455.8,185.2 1456.4,184.8 1457.1,183.1 1457.3,180.4 1457.1,177.1 1457.0,173.6 1456.9,170.2 1457.3,167.4 1457.8,165.6 1458.4,163.8 1459.1,162.2 1459.9,160.6 1460.9,159.3 1461.9,158.3 1463.0,157.7 1464.3,157.5 1465.7,157.4 1467.1,157.3 1468.3,157.0 1469.2,156.4 1469.8,155.4 1470.0,154.1 1470.0,152.7 1470.0,151.1 1469.9,149.3 1470.0,147.5 1470.4,143.8 1470.8,139.5 1471.4,134.7 1471.9,129.7 1472.5,124.8 1473.0,120.0"/>
<polyline stroke="#008000" points="1565.0,120.0 1565.6,124.6 1566.2,129.2 1566.9,133.9 1567.5,138.5 1568.1,143.0 1568.8,147.5 1569.4,151.5 1570.0,155.3 1570.7,159.1 1571.3,163.0 1572.0,166.9 1572.5,171.0 1573.0,175.9 1573.5,181.0 1573.9,186.3 1574.3,191.6 1574.6,197.0 1575.0,202.5 1575.5,208.5 1575.9,214.4 1576.4,220.5 1576.8,226.7 1577.2,233.2 1577.5,240.0 1577.8,249.4 1577.9,259.7 1577.9,270.4 1577.9,281.0 1577.9,291.0 1578.0,300.0 1578.1,305.4 1578.1,310.1 1578.2,314.4 1578.3,319.0 1578.4,324.0 1578.5,330.0 1578.7,344.9 1579.0,363.0 1579.4,383.2 1579.7,404.0 1580.1,424.2 1580.6,442.5 1581.0,455.7 1581.4,468.2 1581.9,480.2 1582.4,492.2 1582.9,504.5 1583.4,517.5 1584.1,534.2 1584.9,552.2 1585.7,570.7 1586.5,588.8 1587.3,605.5 1588.0,620.0 1588.4,627.6 1588.7,634.4 1589.1,640.6 1589.4,646.8 1589.7,653.1 1590.0,660.0 1590.4,669.3 1590.7,679.1 1591.0,689.2 1591.4,699.6 1591.7,709.9 1592.0,720.0 1592.3,730.1 1592.6,740.5 1592.9,750.8 1593.2,760.9 1593.6,770.7 1594.0,780.0 1594.4,787.1 1594.9,793.9 1595.4,800.5 1596.0,807.0 1596.5,813.4 1597.0,820.0 1597.4,826.8 1597.8,833.9 1598.2,840.9 1598.7,847.7 1599.2,854.1 1600.0,860.0 1600.6,863.8 1601.3,867.3 1602.0,870.7 1602.8,873.8 1603.8,876.9 1605.0,880.0 1606.3,883.0 1607.7,885.9 1609.2,888.8 1611.0,891.5 1612.9,893.9 1615.0,896.0 1617.3,897.6 1619.9,898.9 1622.6,900.0 1625.5,900.9 1628.3,901.5 1631.0,902.0 1633.4,902.2 1635.7,902.0 1638.0,901.7 1640.3,901.4 1642.7,901.1 1645.0,901.0 1647.3,901.1 1649.6,901.3 1651.9,901.5 1654.3,901.8 1656.7,902.1 1659.4,902.3 1663.3,902.6 1667.6,902.8 1672.0,903.1 1676.6,903.3 1681.1,903.5 1685.6,903.6 1690.0,903.6 1694.4,903.3 1698.8,903.1 1703.1,902.9 1707.5,902.8 1711.9,903.0 1716.3,903.5 1720.6,904.3 1725.0,905.2 1729.4,906.2 1733.7,907.0 1738.1,907.6 1742.5,908.0 1747.0,908.2 1751.5,908.4 1755.9,908.4 1760.2,908.4 1764.3,908.2 1767.7,907.8 1771.1,907.0 1774.5,906.2 1777.6,905.5 1780.4,905.2 1782.7,905.6 1783.9,906.4 1784.8,907.5 1785.5,908.9 1786.2,910.2 1787.0,911.3 1788.0,912.1 1789.3,912.4 1790.8,912.2 1792.4,911.9 1794.0,911.5 1795.6,911.3 1797.1,911.5 1798.5,912.3 1799.9,913.6 1801.2,915.0 1802.5,916.4 1803.8,917.5 1805.0,918.0 1805.9,917.8 1806.8,917.3 1807.7,916.6 1808.5,915.8 1809.4,915.2 1810.3,914.8 1811.2,914.8 1812.1,915.0 1813.1,915.4 1814.0,915.6 1814.8,915.7 1815.5,915.4 1816.5,913.3 1816.9,909.7 1816.9,905.1 1816.7,900.0 1816.5,894.8 1816.5,890.0 1816.7,885.2 1817.0,880.3 1817.2,875.4 1817.5,870.4 1817.7,865.3 1818.0,860.0 1818.3,853.9 1818.6,847.9 1819.0,841.7 1819.3,835.1 1819.6,828.0 1819.9,820.0 1820.3,803.9 1820.7,785.3 1821.0,764.9 1821.2,743.4 1821.5,721.5 1821.8,700.0 1822.1,676.0 1822.4,651.2 1822.7,626.0 1823.0,600.6 1823.3,575.2 1823.6,550.0 1823.9,524.6 1824.2,498.9 1824.6,473.1 1824.9,447.8 1825.2,423.2 1825.5,400.0 1825.7,382.0 1826.0,364.5 1826.2,347.6 1826.5,331.3 1826.7,315.4 1827.0,300.0 1827.2,287.3 1827.5,274.7 1827.8,262.4 1828.0,250.7 1828.3,239.8 1828.5,230.0 1828.6,224.2 1828.8,218.9 1828.9,213.9 1829.0,209.1 1829.2,204.5 1829.3,200.0 1829.3,196.0 1829.0,191.7 1828.8,187.6 1828.7,183.9 1829.1,181.1 1830.0,179.5 1830.9,179.3 1832.0,179.5 1833.3,180.1 1834.6,180.9 1836.0,181.8 1837.5,182.5 1839.7,183.5 1842.1,184.7 1844.7,186.0 1847.3,187.4 1849.9,188.7 1852.5,190.0 1855.0,191.3 1857.5,192.6 1860.0,193.9 1862.5,195.2 1865.0,196.4 1867.5,197.5 1869.9,198.4 1872.3,199.2 1874.8,200.0 1877.2,200.7 1879.8,201.4 1882.5,202.0 1886.0,202.7 1889.8,203.3 1893.8,203.8 1897.7,204.4 1901.5,205.0 1905.0,205.8 1907.7,206.6 1910.2,207.6 1912.7,208.7 1915.1,209.7 1917.5,210.5 1920.0,211.0 1922.4,211.1 1924.9,210.9 1927.3,210.5 1929.8,210.1 1932.3,209.7 1935.0,209.5 1938.5,209.5 1942.4,209.5 1946.3,209.6 1950.2,209.9 1954.0,210.4 1957.5,211.0 1960.2,211.8 1962.6,212.8 1965.0,214.0 1967.4,215.2 1969.8,216.2 1972.5,217.0 1976.0,217.6 1979.8,218.0 1983.7,218.2 1987.6,218.3 1991.5,218.4 1995.0,218.5 1997.7,218.5 2000.4,218.4 2002.9,218.3 2005.4,218.2 2007.7,218.2 2010.0,218.5 2011.8,218.9 2013.4,219.5 2015.0,220.2 2016.6,220.9 2018.2,221.6 2019.8,222.2"/>
<polyline stroke="#0000ff" points="337.5,188.0 338.1,187.3 338.7,186.7 339.3,186.1 339.8,185.4 340.4,184.7 341.0,184.0 341.7,182.9 342.3,181.7 342.9,180.4 343.6,179.2 344.2,178.2 345.0,177.5 345.6,177.2 346.2,177.0 346.8,177.0 347.5,176.9 348.1,177.0 348.8,177.0 349.5,177.0 350.2,177.1 351.0,177.1 351.7,177.3 352.4,177.6 353.0,178.0 353.8,179.2 354.4,180.8 354.9,182.8 355.3,184.9 355.7,186.9 356.2,188.8 356.8,190.1 357.3,191.3 357.8,192.5 358.4,193.6 358.9,194.9 359.4,196.2 360.0,198.1 360.5,200.2 361.0,202.3 361.5,204.5 362.0,206.6 362.5,208.8 363.0,210.8 363.5,212.9 364.0,215.0 364.6,217.1 365.1,219.2 365.6,221.2 366.1,223.4 366.7,225.6 367.2,227.8 367.7,229.9 368.3,231.9 368.8,233.8 369.1,234.9 369.4,235.9 369.7,236.9 370.0,237.8 370.3,238.9 370.6,240.0 371.1,241.8 371.6,243.7 372.2,245.7 372.8,247.8 373.3,250.1 373.8,252.5 374.4,256.2 375.0,260.2 375.5,264.4 376.0,268.8 376.4,273.2 376.9,277.5 377.4,281.7 377.8,285.8 378.3,289.9 378.7,294.1 379.1,298.3 379.5,302.5 379.8,306.9 380.0,311.2 380.2,315.6 380.4,320.1 380.6,324.8 381.0,330.0 381.8,338.2 382.8,347.2 384.0,356.8 385.2,366.6 386.4,376.4 387.5,386.0 388.5,395.4 389.4,404.8 390.4,414.2 391.3,423.7 392.1,433.1 393.0,442.5 393.8,451.9 394.7,461.3 395.4,470.7 396.2,480.0 397.0,489.4 397.8,498.8 398.6,508.2 399.3,517.8 400.0,527.3 400.7,536.7 401.6,546.0 402.5,555.0 403.5,562.8 404.6,570.4 405.8,577.8 407.0,585.2 408.1,592.5 409.0,600.0 409.6,607.5 410.0,615.0 410.3,622.5 410.7,630.0 411.2,637.5 412.0,645.0 413.2,652.4 414.6,659.8 416.2,667.1 417.9,674.5 419.5,682.1 421.0,690.0 422.5,699.5 424.0,709.4 425.4,719.5 426.8,729.7 428.3,739.9 430.0,750.0 431.8,760.1 433.7,770.4 435.7,780.6 437.8,790.7 439.9,800.5 442.0,810.0 443.9,818.0 445.8,825.9 447.7,833.5 449.8,841.0 451.8,848.1 454.0,855.0 455.8,860.4 457.7,865.7 459.6,870.7 461.6,875.6 463.7,880.3 466.0,885.0 468.2,889.3 470.6,893.5 473.0,897.6 475.6,901.5 478.2,905.3 481.0,909.0 483.7,912.4 486.6,915.6 489.5,918.7 492.6,921.7 495.7,924.5 499.0,927.0 502.2,929.2 505.5,931.3 508.9,933.2 512.5,934.9 516.2,936.3 520.0,937.5 524.7,938.4 529.7,938.9 534.9,939.1 540.1,939.1 545.2,939.0 550.0,939.0 553.9,938.9 557.7,938.7 561.5,938.4 565.1,938.2 568.8,938.1 572.5,938.2 576.4,938.6 580.3,939.2 584.3,940.0 588.1,940.8 591.7,941.5 595.0,942.0 597.1,942.2 598.9,942.4 600.7,942.6 602.5,942.7 604.2,942.8 606.0,943.0"/>
<polyline stroke="#0000ff" points="611.0,942.0 611.8,941.9 612.6,941.8 613.4,941.7 614.2,941.6 615.1,941.5 616.2,941.4 619.2,941.2 622.9,941.0 627.1,940.9 631.6,940.8 636.0,940.6 640.0,940.5 643.4,940.4 646.7,940.3 650.0,940.1 653.3,940.1 656.6,940.0 660.0,940.0 664.3,940.0 669.0,939.8 673.9,939.8 678.3,939.8 682.0,940.2 684.4,941.0 684.9,941.5 685.3,942.1 685.5,942.8 685.7,943.4 685.8,943.9 686.0,944.0 686.4,943.3 686.7,941.7 687.0,939.2 687.2,936.3 687.4,933.1 687.6,930.0 688.0,923.6 688.2,916.1 688.4,907.7 688.6,898.7 688.8,889.4 689.0,880.0 689.3,867.9 689.6,855.0 690.0,841.7 690.3,828.0 690.7,814.1 691.0,800.0 691.4,784.0 691.8,767.5 692.2,750.7 692.6,733.7 693.1,716.8 693.5,700.0 694.0,683.3 694.4,666.7 694.9,650.0 695.4,633.3 696.0,616.7 696.5,600.0 697.0,583.2 697.6,566.4 698.1,549.5 698.7,532.7 699.3,516.2 700.0,500.0 700.7,485.5 701.5,471.2 702.4,457.2 703.2,443.3 703.9,429.2 704.5,415.0 704.9,399.8 705.2,384.1 705.4,368.2 705.6,352.8 705.7,338.2 706.0,325.0 706.2,316.5 706.4,308.5 706.6,301.0 706.9,293.8 707.2,286.8 707.5,280.0 707.8,274.5 708.1,269.2 708.4,264.0 708.7,259.0 709.2,254.3 709.8,250.0 710.2,247.1 710.8,244.4 711.4,241.9 712.0,239.5 712.7,237.2 713.5,235.0 714.1,233.3 714.8,231.6 715.4,230.0 716.2,228.5 717.0,227.2 718.0,226.0 719.0,225.1 720.2,224.3 721.4,223.6 722.7,223.0 724.1,222.6 725.5,222.2 727.3,222.0 729.2,222.1 731.2,222.3 733.3,222.5 735.4,222.8 737.5,223.0 739.7,223.1 741.9,223.1 744.1,223.1 746.3,223.2 748.6,223.4 751.0,223.7 753.8,224.3 756.7,225.2 759.7,226.3 762.7,227.3 765.8,228.3 769.0,229.0 772.6,229.6 776.3,230.1 780.1,230.5 784.0,230.7 788.0,230.8 792.0,230.8 796.8,230.5 801.8,230.0 806.9,229.2 812.0,228.4 817.1,227.7 822.0,227.2 826.5,226.8 831.1,226.5 835.6,226.1 839.9,225.9 843.9,225.9 847.5,226.0 849.5,226.2 851.3,226.6 853.0,227.0 854.7,227.4 856.3,227.8 858.0,228.0 859.7,228.1 861.5,228.2 863.2,228.2 864.9,228.1 866.8,228.1 868.8,228.1 871.6,228.1 874.7,228.2 878.0,228.2 881.3,228.2 884.5,228.2 887.5,228.1 890.0,227.9 892.5,227.5 895.0,227.1 897.3,226.8 899.3,226.8 900.7,227.2 901.2,227.7 901.5,228.3 901.8,229.1 902.0,229.8 902.2,230.4 902.5,230.8 902.8,231.0 903.1,231.1 903.5,231.2 903.9,231.2 904.2,231.2 904.5,231.0 905.2,229.4 905.5,226.4 905.7,222.5 905.7,218.1 905.8,213.8 906.0,210.0 906.1,206.7 906.1,203.3 906.1,200.0 906.3,196.8 906.8,194.0 907.8,191.6 909.0,190.2 910.5,189.0 912.1,188.1 913.9,187.3 915.7,186.4 917.5,185.5 919.3,184.4 921.2,183.3 923.1,182.3 925.0,181.2 927.0,180.1 929.0,179.1 931.4,178.0 933.8,176.8 936.3,175.7 938.9,174.6 941.4,173.5 943.8,172.5 945.9,171.6 947.8,170.6 949.8,169.7 951.8,168.9 953.8,168.1 956.0,167.5 958.8,166.9 961.8,166.4 965.0,166.1 968.1,165.8 971.0,165.7 973.7,165.7 975.5,165.7 977.2,165.7 978.9,165.8 980.5,166.0 981.9,166.4 983.1,166.9 984.0,167.7 984.7,168.8 985.4,169.9 985.9,171.0 986.4,171.8 986.9,172.0 987.4,171.3 987.8,169.6 988.0,167.3 988.1,164.7 988.3,162.2 988.5,160.0 988.7,158.2 988.9,156.3 989.0,154.3 989.2,152.7 989.4,151.5 989.7,151.0 990.0,151.2 990.2,151.7 990.6,152.4 990.9,153.3 991.2,154.2 991.5,155.0 991.8,156.0 992.1,157.1 992.3,158.3 992.6,159.5 993.0,160.6 993.5,161.6 994.2,162.5 995.0,163.3 996.0,164.1 996.9,164.9 997.8,165.7 998.6,166.7 999.3,168.0 1000.0,169.3 1000.5,170.7 1001.0,172.3 1001.5,173.9 1002.0,175.6 1002.7,178.1 1003.4,180.8 1004.0,183.7 1004.6,186.8 1005.2,190.0 1005.7,193.4 1006.4,198.5 1007.1,204.1 1007.7,210.0 1008.2,216.1 1008.8,222.5 1009.3,229.0 1009.9,237.3 1010.6,246.1 1011.1,255.2 1011.7,264.4 1012.3,273.6 1012.9,282.4 1013.5,291.0 1014.1,300.1 1014.8,309.2 1015.4,317.6 1015.9,324.7 1016.4,330.0 1016.5,331.3 1016.7,332.2 1016.8,333.0 1016.9,333.8 1017.1,334.7 1017.2,336.0 1017.7,342.1 1018.3,350.6 1018.9,360.7 1019.6,371.5 1020.3,382.4 1021.0,392.5 1021.7,401.9 1022.5,411.3 1023.2,420.6 1024.0,430.0 1024.8,439.4 1025.6,448.8 1026.4,458.1 1027.2,467.5 1027.9,476.9 1028.7,486.3 1029.5,495.6 1030.3,505.0 1031.1,514.2 1031.9,523.3 1032.7,532.3 1033.5,541.5 1034.2,551.0 1035.0,561.0 1035.9,574.2 1036.7,588.4 1037.6,603.0 1038.4,617.6 1039.3,631.8 1040.3,645.0 1041.2,655.0 1042.2,664.5 1043.1,673.7 1044.1,682.7 1045.1,691.8 1046.0,701.0 1046.8,710.4 1047.5,719.8 1048.2,729.2 1048.9,738.7 1049.7,748.1 1050.6,757.5 1051.6,767.1 1052.8,777.1 1054.0,787.0 1055.3,796.6 1056.6,805.6 1058.1,813.7 1059.2,818.8 1060.4,823.4 1061.6,827.7 1062.8,831.9 1064.0,835.9 1065.0,840.0 1065.7,843.6 1066.2,847.2 1066.7,850.8 1067.3,854.2 1068.0,857.5 1069.1,860.6 1070.4,863.1 1072.0,865.5 1073.8,867.7 1075.5,869.9 1077.3,872.1 1078.8,874.4 1080.1,876.7 1081.2,879.0 1082.3,881.3 1083.4,883.6 1084.5,885.9 1085.6,888.1 1086.7,890.0 1087.7,891.9 1088.7,893.7 1089.9,895.5 1091.1,897.3 1092.5,899.1 1094.4,901.2 1096.6,903.3 1099.0,905.4 1101.5,907.5 1103.9,909.5 1106.3,911.5 1108.6,913.4 1110.8,915.4 1113.1,917.3 1115.3,919.2 1117.7,920.9 1120.0,922.5 1122.2,923.9 1124.5,925.1 1126.8,926.2 1129.2,927.3 1131.5,928.4 1133.8,929.4 1136.1,930.4 1138.3,931.4 1140.6,932.3 1142.9,933.2 1145.2,934.1 1147.5,934.9 1149.7,935.7 1151.9,936.4 1154.1,937.1 1156.3,937.8 1158.7,938.4 1161.3,939.0 1165.4,939.8 1169.9,940.6 1174.8,941.4 1179.6,942.0 1184.4,942.4 1188.8,942.5 1192.1,942.3 1195.2,941.9 1198.3,941.4 1201.3,940.7 1204.4,940.0 1207.5,939.4 1211.0,938.6 1214.6,937.5 1218.3,936.4 1221.8,935.4 1224.9,934.9 1227.5,935.0 1228.7,935.4 1229.7,936.0 1230.5,936.7 1231.3,937.5 1232.1,938.2 1233.0,939.0 1234.0,939.9 1234.9,940.9 1235.8,941.9 1236.8,942.8 1237.8,943.4 1238.8,943.8 1239.8,943.6 1240.8,943.0 1241.8,942.2 1242.9,941.3 1243.9,940.5 1245.0,940.0 1246.1,939.9 1247.2,940.1 1248.3,940.4 1249.4,940.5 1250.4,940.5 1251.2,940.0 1252.7,936.9 1253.2,931.6 1253.2,924.7 1252.8,916.8 1252.5,908.4 1252.5,900.0 1252.9,885.9 1253.3,870.0 1253.7,852.8 1254.1,835.0 1254.5,817.2 1255.0,800.0 1255.5,783.3 1256.0,766.7 1256.5,750.0 1257.0,733.3 1257.5,716.7 1258.0,700.0 1258.5,683.3 1259.0,666.7 1259.5,650.0 1260.0,633.3 1260.5,616.7 1261.0,600.0 1261.5,583.3 1262.0,566.7 1262.6,550.0 1263.1,533.3 1263.6,516.7 1264.0,500.0 1264.4,483.3 1264.8,466.7 1265.1,450.0 1265.4,433.3 1265.7,416.7 1266.0,400.0 1266.3,382.9 1266.5,365.4 1266.8,347.9 1267.0,330.8 1267.3,314.7 1267.5,300.0 1267.6,290.4 1267.5,281.3 1267.5,272.6 1267.6,264.5 1267.8,256.9 1268.4,250.0 1268.9,245.7 1269.4,241.5 1270.0,237.6 1270.7,234.1 1271.7,230.9 1273.1,228.1 1274.3,226.3 1275.7,224.7 1277.3,223.3 1279.0,222.2 1280.7,221.2 1282.5,220.6 1284.4,220.3 1286.4,220.5 1288.5,220.9 1290.7,221.5 1293.1,222.1 1295.6,222.5 1299.6,223.0 1304.1,223.5 1308.8,224.1 1313.7,224.6 1318.7,225.0 1323.8,225.3 1329.7,225.5 1335.9,225.7 1342.2,225.8 1348.6,225.7 1355.0,225.6 1361.3,225.3 1367.7,224.8 1374.2,224.0 1380.7,223.2 1387.1,222.3 1393.2,221.5 1398.8,221.0 1402.7,220.8 1406.3,220.6 1409.8,220.6 1413.2,220.5 1416.6,220.5 1420.0,220.5 1423.4,220.5 1426.9,220.5 1430.3,220.5 1433.7,220.5 1436.9,220.5 1440.0,220.5 1442.4,220.7 1444.7,221.0 1447.0,221.3 1449.2,221.5 1451.0,221.3 1452.5,220.5 1453.7,218.6 1454.3,215.8 1454.6,212.5 1454.6,209.1 1454.7,206.1 1455.0,203.8 1455.2,203.0 1455.3,202.3 1455.5,201.6 1455.6,201.0 1455.9,200.5 1456.2,200.0 1456.9,199.5 1457.7,199.2 1458.6,198.9 1459.5,198.6 1460.4,198.1 1461.2,197.5 1462.4,196.0 1463.3,193.9 1464.2,191.6 1465.2,189.2 1466.2,186.9 1467.5,185.0 1468.9,183.5 1470.4,182.2 1472.0,181.0 1473.7,179.9 1475.6,178.7 1477.5,177.5 1480.3,175.8 1483.3,173.9 1486.5,172.0 1489.8,170.2 1493.1,168.7 1496.2,167.5 1499.1,166.6 1502.1,165.8 1505.1,165.1 1507.9,164.8 1510.3,164.8 1512.0,165.5 1512.8,166.7 1513.3,168.7 1513.4,170.8 1513.5,172.9 1513.5,174.4 1513.8,175.0 1514.0,174.3 1514.0,172.5 1514.1,170.1 1514.4,167.5 1514.9,165.2 1516.0,163.5 1518.6,162.2 1522.3,161.7 1526.7,161.7 1531.3,161.9 1535.9,162.3 1540.0,162.5 1543.4,162.7 1546.9,163.0 1550.3,163.3 1553.5,163.7 1556.3,164.1 1558.8,164.4 1559.8,164.5 1560.8,164.4 1561.6,164.4 1562.4,164.4 1563.1,164.6 1563.8,165.0 1564.5,166.0 1565.0,167.5 1565.3,169.2 1565.6,171.1 1565.9,173.1 1566.2,175.0 1566.9,177.3 1567.6,179.6 1568.3,182.0 1569.0,184.5 1569.5,187.1 1570.0,190.0 1570.3,194.4 1570.4,199.3 1570.3,204.4 1570.1,209.8 1570.0,215.4 1570.0,221.0 1570.2,227.9 1570.6,235.2 1571.0,242.7 1571.4,250.3 1572.0,257.8 1572.5,265.0 1573.0,271.5 1573.6,277.9 1574.2,284.3 1574.8,290.6 1575.5,296.6 1576.2,302.5 1576.9,307.2 1577.6,311.6 1578.4,315.9 1579.1,320.3 1579.9,324.9 1580.6,330.0 1581.6,338.1 1582.6,347.0 1583.6,356.4 1584.6,366.1 1585.4,376.2 1586.2,386.2 1587.0,398.2 1587.7,410.8 1588.3,423.7 1588.8,436.6 1589.4,449.2 1590.0,461.2 1590.6,471.1 1591.2,480.6 1591.8,489.9 1592.5,499.1 1593.1,508.2 1593.8,517.5 1594.4,526.9 1595.0,536.5 1595.7,546.0 1596.3,555.4 1596.9,564.7 1597.5,573.8 1597.9,581.8 1598.3,589.6 1598.7,597.4 1599.1,605.0 1599.5,612.5 1600.0,620.0 1600.6,626.8 1601.2,633.4 1601.9,639.9 1602.6,646.4 1603.3,653.1 1604.0,660.0 1604.7,668.1 1605.4,676.5 1606.0,685.0 1606.6,693.5 1607.3,701.9 1608.0,710.0 1608.6,716.9 1609.3,723.7 1609.9,730.3 1610.6,736.8 1611.3,743.4 1612.0,750.0 1612.8,756.7 1613.6,763.6 1614.4,770.4 1615.2,777.1 1616.1,783.7 1617.0,790.0 1617.8,795.3 1618.6,800.4 1619.4,805.4 1620.2,810.3 1621.1,815.2 1622.0,820.0 1622.9,824.5 1623.8,829.0 1624.8,833.5 1625.8,837.8 1626.8,842.0 1628.0,846.0 1629.0,849.3 1630.1,852.4 1631.3,855.4 1632.5,858.3 1633.7,861.2 1635.0,864.0 1636.2,866.5 1637.5,868.9 1638.8,871.3 1640.1,873.6 1641.5,875.8 1643.0,878.0 1644.5,880.1 1646.1,882.2 1647.8,884.2 1649.5,886.1 1651.3,888.1 1653.0,890.0 1654.7,891.9 1656.4,893.9 1658.1,895.8 1659.9,897.7 1661.8,899.5 1663.8,901.2 1666.0,903.1 1668.4,905.0 1670.9,906.8 1673.5,908.5 1676.2,910.1 1679.0,911.5 1682.0,912.7 1685.2,913.7 1688.4,914.5 1691.8,915.2 1695.2,915.9 1698.7,916.7 1703.0,917.6 1707.5,918.5 1712.2,919.4 1716.8,920.2 1721.1,921.1 1725.0,922.0 1727.4,922.7 1729.5,923.4 1731.5,924.2 1733.5,924.9 1735.7,925.5 1738.1,925.9 1741.9,926.2 1746.1,926.3 1750.6,926.2 1755.2,926.0 1759.8,925.6 1764.3,925.3 1768.8,924.7 1773.4,923.9 1778.1,923.0 1782.6,922.2 1786.8,921.8 1790.6,922.0 1793.2,922.8 1795.6,924.2 1797.8,925.7 1799.9,927.2 1801.9,928.2 1803.7,928.5 1805.0,928.0 1806.1,927.1 1807.2,925.9 1808.2,924.8 1809.2,923.8 1810.3,923.3 1811.3,923.4 1812.4,923.9 1813.5,924.5 1814.5,925.1 1815.4,925.5 1816.2,925.3 1817.2,923.4 1817.7,919.9 1817.7,915.2 1817.6,910.0 1817.4,904.8 1817.5,900.0 1817.8,895.2 1818.1,890.5 1818.4,885.6 1818.7,880.7 1819.0,875.5 1819.3,870.0 1819.6,862.7 1819.9,855.1 1820.2,847.1 1820.4,838.7 1820.7,829.7 1820.9,820.0 1821.3,803.1 1821.6,784.3 1821.9,764.1 1822.2,742.9 1822.5,721.4 1822.8,700.0 1823.1,676.0 1823.4,651.2 1823.7,626.0 1824.0,600.6 1824.3,575.2 1824.6,550.0 1824.9,524.6 1825.2,498.9 1825.6,473.1 1825.9,447.8 1826.2,423.2 1826.5,400.0 1826.7,381.8 1827.0,363.9 1827.2,346.6 1827.4,330.0 1827.7,314.4 1828.0,300.0 1828.2,290.5 1828.3,281.5 1828.5,273.0 1828.7,264.9 1829.0,257.2 1829.5,250.0 1829.9,244.8 1830.2,239.8 1830.7,235.0 1831.2,230.5 1832.0,226.5 1833.0,223.0 1833.8,221.0 1834.7,219.1 1835.6,217.4 1836.7,216.0 1837.8,214.8 1839.0,214.0 1840.1,213.7 1841.4,213.6 1842.7,213.7 1844.0,214.0 1845.3,214.4 1846.5,214.8 1847.5,215.2 1848.4,215.8 1849.3,216.5 1850.2,217.2 1851.2,217.9 1852.5,218.5 1855.4,219.3 1859.1,219.8 1863.1,220.3 1867.3,220.6 1871.3,221.0 1875.0,221.5 1877.6,222.0 1880.0,222.5 1882.4,223.1 1884.7,223.6 1887.2,224.1 1890.0,224.5 1894.4,225.0 1899.2,225.3 1904.3,225.6 1909.6,225.8 1914.9,225.9 1920.0,226.0 1925.0,226.0 1930.0,226.0 1935.0,225.9 1940.0,225.7 1945.0,225.5 1950.0,225.2 1955.0,224.9 1960.0,224.5 1965.0,224.0 1970.0,223.5 1975.0,223.2 1980.0,223.0 1985.2,223.0 1990.6,223.1 1996.0,223.3 2001.2,223.6 2006.0,224.0 2010.0,224.5 2011.9,224.8 2013.7,225.2 2015.2,225.6 2016.7,226.0 2018.2,226.4 2019.8,226.8"/>
<polyline stroke="#777777" points="337.2,188.5 337.6,187.6 337.9,186.6 338.3,185.7 338.7,184.8 339.0,183.9 339.4,183.0 339.7,182.2 340.0,181.3 340.3,180.5 340.6,179.7 340.9,179.2 341.2,179.0 341.6,179.1 342.0,179.5 342.4,180.1 342.7,180.8 343.1,181.4 343.5,182.0 343.8,182.5 344.2,183.0 344.5,183.5 344.8,184.0 345.2,184.5 345.6,185.0 346.0,185.5 346.5,186.0 347.0,186.5 347.5,186.9 348.1,187.3 348.8,187.5 349.7,187.6 350.7,187.6 351.8,187.5 352.9,187.3 354.0,186.9 355.0,186.5 355.9,185.9 356.8,185.1 357.6,184.2 358.4,183.2 359.2,182.2 360.0,181.2 360.8,180.3 361.6,179.3 362.4,178.2 363.3,177.2 364.1,176.1 365.0,175.0 366.1,173.5 367.3,171.8 368.6,170.1 369.9,168.5 371.2,167.1 372.5,166.2 373.5,165.9 374.7,165.7 375.8,165.6 376.9,165.7 377.9,165.9 378.8,166.2 379.3,166.8 379.7,167.5 380.0,168.4 380.3,169.3 380.7,170.0 381.2,170.6 382.0,170.9 382.8,171.0 383.7,170.9 384.6,170.9 385.5,171.0 386.2,171.2 387.0,171.8 387.7,172.5 388.4,173.4 389.0,174.3 389.5,175.3 390.0,176.2 390.5,177.4 390.9,178.7 391.2,180.0 391.4,181.4 391.7,182.6 391.9,183.8 392.0,184.4 392.1,185.0 392.2,185.6 392.3,186.2 392.4,186.8 392.5,187.5 392.7,188.7 392.9,190.0 393.1,191.3 393.3,192.8 393.5,194.4 393.8,196.0 394.3,198.7 394.9,201.6 395.6,204.7 396.3,208.0 396.9,211.5 397.5,215.0 398.2,219.7 398.7,224.8 399.3,230.0 399.8,235.4 400.4,240.7 401.0,246.0 401.6,251.2 402.3,256.5 403.0,261.7 403.7,267.0 404.3,272.3 405.0,277.5 405.7,282.7 406.3,287.9 407.0,293.2 407.6,298.4 408.2,303.6 408.8,308.8 409.4,313.9 409.9,319.0 410.4,324.0 410.9,329.2 411.4,334.4 411.9,340.0 412.5,347.1 413.1,354.5 413.7,362.1 414.3,370.0 414.9,378.0 415.6,386.0 416.4,395.1 417.4,404.4 418.3,413.9 419.3,423.5 420.2,433.0 421.0,442.5 421.7,452.0 422.4,461.7 423.0,471.4 423.6,480.9 424.2,490.1 425.0,498.8 425.7,505.4 426.5,511.7 427.4,517.8 428.2,523.8 429.0,529.8 429.7,536.0 430.3,542.5 430.9,549.2 431.4,556.0 431.9,562.6 432.4,569.0 433.0,575.0 433.5,579.3 434.0,583.2 434.4,586.9 434.9,590.7 435.5,595.0 436.0,600.0 437.1,611.8 438.3,625.9 439.6,641.5 440.9,657.9 442.2,674.4 443.5,690.0 444.7,705.2 445.9,720.7 447.1,736.1 448.4,751.4 449.6,766.1 451.0,780.0 452.2,790.8 453.4,801.2 454.6,811.3 455.9,821.1 457.2,830.6 458.5,840.0 459.7,848.0 460.9,855.8 462.2,863.5 463.5,870.9 464.8,878.1 466.0,885.0 467.0,890.5 467.9,895.9 468.8,901.1 469.8,906.0 470.9,910.7 472.0,915.0 472.9,917.9 473.8,920.6 474.8,923.1 475.8,925.5 476.9,927.8 478.0,930.0 478.9,931.7 479.9,933.3 480.8,934.8 481.8,936.2 482.9,937.6 484.0,939.0 485.2,940.4 486.5,941.8 487.8,943.2 489.1,944.5 490.6,945.8 492.0,947.0 493.5,948.3 494.9,949.5 496.5,950.7 498.1,951.9 499.9,953.0 502.0,954.0 505.9,955.4 510.4,956.6 515.5,957.6 520.8,958.5 526.4,959.3 532.0,960.0 539.3,960.8 546.9,961.3 554.9,961.8 563.2,962.1 571.6,962.5 580.0,963.0 589.9,963.7 600.3,964.4 610.9,965.1 621.3,965.9 631.1,966.7 640.0,967.5 645.7,968.1 651.2,968.8 656.4,969.4 661.2,970.1 665.8,970.6 670.0,971.0 672.8,971.1 675.5,971.0 678.0,970.9 680.4,970.9 682.4,971.0 684.0,971.5 684.7,972.0 685.3,972.8 685.8,973.6 686.2,974.4 686.6,974.9 687.0,975.0 687.9,973.7 688.6,970.5 689.2,966.2 689.7,961.2 690.1,956.0 690.5,951.3 690.9,945.8 691.2,939.9 691.3,933.9 691.4,927.8 691.5,921.6 691.7,915.6 691.9,909.8 692.1,904.0 692.3,898.3 692.5,892.4 692.7,886.4 692.9,880.0 693.1,871.5 693.2,862.5 693.3,853.1 693.5,843.6 693.6,834.2 693.7,825.0 693.9,816.6 694.1,808.5 694.4,800.5 694.6,792.3 694.8,783.9 695.0,775.0 695.2,763.2 695.4,750.7 695.6,737.7 695.8,724.7 696.0,712.0 696.2,700.0 696.5,690.4 696.7,681.2 696.9,672.2 697.1,663.3 697.3,654.3 697.5,645.0 697.6,634.8 697.8,624.5 697.8,614.0 697.9,603.5 698.0,593.0 698.1,582.5 698.2,572.2 698.3,562.1 698.4,552.0 698.5,541.7 698.6,531.1 698.8,520.0 699.0,505.9 699.4,491.2 699.7,476.0 700.1,460.6 700.5,445.2 700.8,430.0 700.9,414.8 701.1,399.3 701.2,383.9 701.2,368.7 701.3,353.9 701.5,340.0 701.7,329.2 701.9,318.8 702.1,308.7 702.3,298.9 702.5,289.4 702.7,280.0 702.8,271.8 702.9,263.4 702.9,255.1 703.0,247.4 703.3,240.6 703.8,235.0 704.0,232.8 704.3,230.9 704.6,229.2 704.9,227.6 705.4,226.0 706.0,224.5 706.8,223.0 707.6,221.4 708.6,220.0 709.7,218.6 710.8,217.4 712.0,216.2 713.1,215.4 714.3,214.6 715.5,214.0 716.8,213.4 718.1,212.9 719.5,212.5 721.1,212.1 722.8,211.9 724.5,211.7 726.3,211.7 728.1,211.7 730.0,211.8 732.4,211.9 735.0,212.3 737.6,212.7 740.2,213.1 742.7,213.6 745.0,214.0 746.5,214.3 747.9,214.5 749.1,214.8 750.5,215.1 752.0,215.3 753.8,215.6 758.5,216.2 764.3,216.9 770.9,217.6 777.8,218.3 784.7,218.9 791.2,219.4 797.6,219.7 804.1,219.9 810.7,220.1 817.0,220.1 823.1,220.2 828.8,220.3 832.7,220.4 836.4,220.4 840.0,220.4 843.5,220.4 846.8,220.5 850.0,220.6 852.5,220.8 854.9,221.0 857.2,221.2 859.4,221.5 861.7,221.6 864.0,221.6 866.3,221.4 868.6,221.1 870.9,220.6 873.2,220.2 875.5,219.9 878.0,219.7 881.1,219.8 884.5,220.0 888.0,220.4 891.3,220.8 894.4,221.3 896.9,221.6 898.1,221.8 899.1,222.1 900.1,222.3 900.9,222.5 901.7,222.6 902.5,222.5 903.1,222.3 903.6,221.9 904.1,221.5 904.5,221.0 904.9,220.4 905.3,219.7 905.8,217.5 906.1,214.4 906.1,210.8 905.9,207.0 905.8,203.3 905.8,200.0 905.7,197.5 905.5,194.9 905.2,192.4 905.1,190.1 905.3,188.0 906.0,186.3 907.1,185.2 908.5,184.4 910.2,183.8 912.0,183.3 913.8,182.7 915.6,181.9 917.7,180.6 919.8,179.2 922.0,177.6 924.2,176.1 926.6,174.7 929.0,173.5 931.8,172.5 934.9,171.6 938.0,170.8 941.2,170.2 944.2,169.6 947.0,169.2 948.9,169.0 950.7,168.8 952.4,168.7 954.1,168.7 955.9,168.6 957.8,168.5 960.3,168.3 962.8,168.0 965.5,167.7 968.2,167.4 970.9,167.4 973.7,167.5 977.0,168.0 980.6,168.8 984.2,169.7 987.6,170.8 990.8,171.8 993.3,172.8 994.4,173.2 995.4,173.6 996.2,173.9 997.0,174.3 997.8,174.9 998.6,175.6 1000.0,177.4 1001.2,179.8 1002.4,182.6 1003.6,185.6 1004.7,188.7 1005.7,191.6 1006.7,194.6 1007.7,197.5 1008.5,200.5 1009.4,203.7 1010.2,207.2 1011.0,211.0 1012.3,218.3 1013.5,226.7 1014.7,235.8 1015.8,245.3 1016.9,255.0 1018.0,264.6 1019.4,275.9 1020.8,288.5 1022.3,301.3 1023.6,313.1 1024.6,323.1 1025.3,330.0 1025.4,331.3 1025.4,332.2 1025.4,333.0 1025.5,333.8 1025.5,334.7 1025.6,336.0 1026.2,342.1 1027.2,350.6 1028.4,360.7 1029.8,371.5 1031.1,382.4 1032.2,392.5 1033.2,401.9 1034.1,411.3 1035.1,420.6 1036.0,430.0 1036.9,439.4 1037.8,448.8 1038.7,458.1 1039.7,467.5 1040.6,476.9 1041.5,486.3 1042.5,495.6 1043.4,505.0 1044.3,514.3 1045.3,523.5 1046.2,532.7 1047.2,542.0 1048.1,551.4 1049.0,561.0 1049.9,571.6 1050.9,582.5 1051.8,593.5 1052.7,604.5 1053.5,615.4 1054.4,626.0 1055.2,635.6 1056.0,645.1 1056.7,654.5 1057.5,663.8 1058.2,673.1 1059.0,682.5 1059.8,691.9 1060.6,701.3 1061.4,710.6 1062.2,720.0 1063.0,729.4 1063.8,738.7 1064.5,748.2 1065.4,757.7 1066.2,767.3 1067.0,776.7 1067.7,786.0 1068.4,795.0 1068.9,802.9 1069.4,810.8 1069.8,818.5 1070.2,826.0 1070.6,833.2 1071.2,840.0 1071.7,845.0 1072.2,849.7 1072.8,854.2 1073.4,858.6 1074.0,863.0 1074.6,867.5 1075.3,872.1 1076.0,876.7 1076.7,881.2 1077.5,885.8 1078.2,890.4 1078.8,895.0 1079.3,899.6 1079.8,904.2 1080.2,908.7 1080.6,913.3 1081.1,917.9 1081.5,922.5 1081.9,927.2 1082.3,931.9 1082.6,936.7 1083.0,941.4 1083.6,945.8 1084.3,950.0 1085.0,953.1 1085.7,956.1 1086.5,959.0 1087.4,961.7 1088.5,964.2 1089.8,966.5 1091.1,968.3 1092.5,970.0 1094.0,971.5 1095.6,972.8 1097.4,973.9 1099.4,974.8 1102.3,975.4 1105.5,975.5 1108.9,975.3 1112.6,974.8 1116.3,974.4 1120.0,974.1 1124.4,973.9 1128.9,973.7 1133.5,973.5 1138.2,973.2 1142.9,973.0 1147.5,972.7 1152.2,972.4 1157.0,972.2 1161.8,971.9 1166.5,971.6 1171.0,971.2 1175.0,970.7 1177.5,970.3 1179.8,969.8 1181.9,969.3 1184.0,968.8 1186.3,968.3 1188.8,967.9 1193.0,967.6 1197.7,967.4 1202.7,967.4 1207.7,967.3 1212.3,967.0 1216.3,966.5 1218.5,965.9 1220.5,965.0 1222.4,964.0 1224.2,963.2 1225.9,962.6 1227.5,962.5 1228.9,962.8 1230.2,963.5 1231.5,964.3 1232.7,965.3 1233.9,966.4 1235.0,967.5 1236.2,969.0 1237.3,970.8 1238.4,972.8 1239.4,974.6 1240.4,975.8 1241.2,976.2 1241.9,975.7 1242.5,974.5 1243.0,972.8 1243.5,971.1 1244.1,969.6 1245.0,968.8 1246.1,968.6 1247.4,968.9 1248.8,969.4 1250.2,970.0 1251.5,970.2 1252.5,970.0 1253.3,969.1 1253.9,967.8 1254.2,966.2 1254.5,964.3 1254.7,962.2 1255.0,960.0 1255.5,955.4 1255.7,950.0 1255.9,943.9 1256.0,937.6 1256.1,931.2 1256.2,925.0 1256.5,918.8 1256.7,912.6 1256.9,906.3 1257.1,900.0 1257.3,893.8 1257.5,887.5 1257.6,881.4 1257.7,875.4 1257.8,869.5 1257.9,863.4 1258.0,856.9 1258.1,850.0 1258.3,839.6 1258.6,828.4 1258.9,816.6 1259.3,804.5 1259.6,792.2 1260.0,780.0 1260.4,767.4 1260.8,755.1 1261.3,742.6 1261.7,729.5 1262.2,715.5 1262.5,700.0 1262.9,671.9 1263.2,640.0 1263.3,605.6 1263.5,570.0 1263.6,534.4 1263.8,500.0 1263.9,465.1 1264.1,428.4 1264.3,391.7 1264.5,356.8 1264.7,325.6 1265.0,300.0 1265.2,289.6 1265.4,280.5 1265.6,272.4 1265.8,264.8 1266.1,257.4 1266.3,250.0 1266.3,243.4 1266.1,236.5 1265.9,229.8 1265.9,223.7 1266.4,218.6 1267.5,215.0 1268.2,213.9 1269.0,213.1 1269.9,212.5 1270.9,212.0 1271.9,211.7 1273.1,211.3 1274.9,210.9 1277.0,210.7 1279.2,210.7 1281.5,210.8 1283.9,211.0 1286.3,211.3 1289.2,211.9 1292.3,212.8 1295.4,213.9 1298.6,215.0 1301.8,216.1 1305.0,216.9 1308.0,217.5 1311.0,218.0 1314.0,218.4 1317.0,218.8 1320.3,219.2 1323.8,219.7 1329.3,220.5 1335.3,221.4 1341.7,222.4 1348.3,223.3 1354.9,224.0 1361.3,224.4 1367.5,224.4 1373.8,224.1 1380.0,223.7 1386.3,223.2 1392.5,222.7 1398.8,222.5 1405.2,222.5 1411.9,222.6 1418.5,222.8 1424.9,223.1 1430.9,223.3 1436.3,223.5 1439.5,223.7 1442.7,224.2 1445.6,224.6 1448.3,224.8 1450.6,224.7 1452.5,224.0 1453.6,223.0 1454.4,221.6 1454.9,220.1 1455.4,218.4 1455.8,216.6 1456.2,215.0 1456.7,213.3 1457.0,211.5 1457.3,209.7 1457.6,207.9 1458.0,206.3 1458.8,205.0 1459.6,204.2 1460.6,203.6 1461.8,203.1 1462.9,202.6 1464.0,202.0 1465.0,201.2 1466.0,200.0 1466.9,198.6 1467.8,197.0 1468.6,195.4 1469.3,193.9 1470.0,192.5 1470.4,191.6 1470.8,190.8 1471.2,190.0 1471.5,189.2 1472.0,188.4 1472.5,187.5 1473.6,185.9 1474.8,184.2 1476.2,182.3 1477.8,180.5 1479.4,178.9 1481.2,177.5 1483.4,176.4 1485.8,175.5 1488.3,174.9 1490.9,174.4 1493.6,173.8 1496.2,173.2 1499.3,172.5 1502.5,171.8 1505.7,171.1 1508.9,170.5 1512.1,169.9 1515.0,169.5 1517.2,169.3 1519.3,169.1 1521.4,169.0 1523.4,168.9 1525.4,168.9 1527.5,168.9 1529.6,169.0 1531.6,169.1 1533.7,169.3 1535.8,169.5 1537.9,169.8 1540.0,170.0 1542.5,170.2 1545.2,170.3 1548.0,170.5 1550.6,170.7 1553.0,171.2 1555.0,171.9 1556.1,172.6 1557.1,173.4 1557.9,174.3 1558.6,175.3 1559.3,176.4 1560.0,177.5 1560.8,179.0 1561.4,180.6 1562.0,182.3 1562.6,184.1 1563.1,185.8 1563.8,187.5 1564.4,188.9 1565.0,190.2 1565.7,191.5 1566.3,192.9 1566.9,194.5 1567.5,196.2 1568.4,200.3 1569.0,205.2 1569.6,210.6 1570.1,216.4 1570.7,222.1 1571.2,227.5 1571.9,232.7 1572.5,237.9 1573.0,243.1 1573.7,248.3 1574.3,253.5 1575.0,258.8 1575.8,264.0 1576.6,269.3 1577.5,274.6 1578.4,279.8 1579.2,285.0 1580.0,290.0 1580.7,294.4 1581.3,298.8 1581.9,303.1 1582.5,307.2 1583.1,311.2 1583.8,315.0 1584.3,317.6 1584.9,319.9 1585.4,322.1 1586.0,324.4 1586.6,327.0 1587.2,330.0 1588.3,337.3 1589.4,346.1 1590.5,355.9 1591.6,366.2 1592.7,376.5 1593.8,386.2 1594.7,395.6 1595.7,405.0 1596.6,414.4 1597.6,423.7 1598.5,433.1 1599.4,442.5 1600.3,451.9 1601.3,461.2 1602.3,470.6 1603.2,480.0 1604.1,489.4 1605.0,498.8 1605.9,508.1 1606.7,517.3 1607.5,526.6 1608.3,535.9 1609.0,545.4 1609.7,555.0 1610.3,565.7 1610.9,576.9 1611.3,588.2 1611.8,599.3 1612.4,610.0 1613.0,620.0 1613.6,627.1 1614.2,633.8 1614.9,640.1 1615.6,646.4 1616.3,653.0 1617.0,660.0 1617.8,669.3 1618.7,679.1 1619.6,689.2 1620.4,699.5 1621.2,709.9 1622.0,720.0 1622.7,730.1 1623.4,740.4 1624.0,750.8 1624.6,760.9 1625.3,770.7 1626.0,780.0 1626.6,787.1 1627.3,793.9 1628.0,800.5 1628.6,807.0 1629.3,813.4 1630.0,820.0 1630.7,826.7 1631.3,833.3 1632.0,840.0 1632.7,846.7 1633.3,853.3 1634.0,860.0 1634.7,866.7 1635.3,873.5 1636.0,880.4 1636.7,887.1 1637.3,893.7 1638.0,900.0 1638.6,905.4 1639.2,910.7 1639.8,915.9 1640.4,920.9 1641.0,925.6 1641.5,930.0 1641.8,932.9 1642.2,935.6 1642.5,938.1 1642.8,940.6 1643.1,943.1 1643.6,945.6 1644.1,948.3 1644.6,951.0 1645.2,953.7 1645.8,956.3 1646.6,958.9 1647.6,961.4 1648.7,963.9 1650.0,966.4 1651.4,968.8 1653.0,971.1 1654.7,973.0 1656.7,974.5 1658.9,975.5 1661.3,976.0 1663.9,976.2 1666.7,976.2 1669.6,976.3 1672.5,976.4 1676.4,976.7 1680.6,976.9 1685.0,977.1 1689.5,977.3 1694.1,977.5 1698.7,977.8 1704.1,978.3 1709.7,979.0 1715.4,979.8 1721.1,980.4 1726.5,980.9 1731.5,981.0 1735.0,980.8 1738.2,980.4 1741.2,979.9 1744.3,979.4 1747.6,978.8 1751.2,978.4 1757.4,977.8 1764.6,977.1 1772.1,976.4 1779.4,975.8 1785.8,975.6 1790.6,975.8 1792.0,976.0 1793.2,976.2 1794.2,976.4 1795.2,976.7 1796.1,977.2 1797.1,977.8 1798.5,979.2 1799.9,981.2 1801.2,983.4 1802.5,985.5 1803.8,987.0 1805.0,987.6 1805.9,987.2 1806.8,986.0 1807.6,984.6 1808.4,983.0 1809.3,981.7 1810.3,981.0 1811.2,981.0 1812.2,981.3 1813.3,981.8 1814.3,982.3 1815.2,982.6 1816.0,982.5 1816.7,981.9 1817.3,980.8 1817.7,979.5 1818.0,978.1 1818.3,976.5 1818.6,975.0 1818.9,972.9 1819.0,970.8 1819.1,968.5 1819.1,966.0 1819.1,963.2 1819.2,960.0 1819.5,951.3 1819.8,940.5 1820.2,928.2 1820.6,915.2 1821.0,902.3 1821.3,890.0 1821.6,878.6 1821.9,867.4 1822.1,856.2 1822.4,844.7 1822.6,832.8 1822.9,820.0 1823.2,800.7 1823.6,778.6 1823.9,755.7 1824.2,733.7 1824.5,714.5 1824.8,700.0 1824.9,695.9 1825.0,692.7 1825.1,690.0 1825.2,687.3 1825.3,684.1 1825.4,680.0 1825.6,665.0 1825.8,645.4 1826.0,622.7 1826.2,598.2 1826.4,573.5 1826.6,550.0 1826.9,525.3 1827.2,499.7 1827.5,473.8 1827.8,448.2 1828.2,423.4 1828.5,400.0 1828.7,381.6 1828.9,363.3 1829.1,345.5 1829.3,328.8 1829.6,313.5 1830.0,300.0 1830.3,293.0 1830.6,286.8 1830.9,281.0 1831.2,275.5 1831.6,270.2 1832.0,265.0 1832.2,260.5 1832.3,255.8 1832.4,251.3 1832.7,247.2 1833.3,243.7 1834.5,241.0 1835.5,239.9 1836.5,238.9 1837.7,238.3 1839.1,237.8 1840.5,237.4 1842.0,237.2 1844.5,237.5 1847.2,238.3 1850.2,239.6 1853.3,241.0 1856.6,242.3 1860.0,243.2 1864.5,244.1 1869.4,244.7 1874.5,245.2 1879.7,245.5 1884.9,245.9 1890.0,246.2 1895.0,246.6 1900.0,246.8 1905.0,247.0 1910.0,247.2 1915.0,247.5 1920.0,247.7 1925.0,248.1 1930.0,248.6 1935.0,249.0 1940.0,249.4 1945.0,249.8 1950.0,250.0 1954.9,250.0 1959.8,249.9 1964.7,249.7 1969.7,249.5 1974.8,249.3 1980.0,249.2 1986.3,249.4 1992.8,249.6 1999.5,249.8 2006.3,250.2 2013.1,250.5 2019.8,250.8"/>
</g>
<rect x="369" y="37" width="296" height="110" fill="#00b0f0"/>
<rect x="665" y="37" width="23" height="110" fill="#e6e6e6"/>
<rect x="688" y="37" width="219" height="110" fill="#ffff00"/>
<rect x="907" y="37" width="80" height="110" fill="#e6e6e6"/>
<rect x="987" y="37" width="261" height="110" fill="#00b0f0"/>
<rect x="1248" y="37" width="24" height="110" fill="#e6e6e6"/>
<rect x="1272" y="37" width="196" height="110" fill="#ffff00"/>
<rect x="1468" y="37" width="89" height="110" fill="#e6e6e6"/>
<rect x="1557" y="37" width="257" height="110" fill="#00b0f0"/>
<rect x="1814" y="37" width="23" height="110" fill="#e6e6e6"/>
<rect x="1837" y="37" width="185" height="110" fill="#ffff00"/>
<text transform="translate(484.5,115) scale(1,1.04)" font-size="62" font-weight="bold">H<tspan font-size="42" dy="14.5">2</tspan></text>
<text transform="translate(1087.5,115) scale(1,1.04)" font-size="62" font-weight="bold">H<tspan font-size="42" dy="14.5">2</tspan></text>
<text transform="translate(1654.5,115) scale(1,1.04)" font-size="62" font-weight="bold">H<tspan font-size="42" dy="14.5">2</tspan></text>
<text transform="translate(753,115) scale(1,1.04)" font-size="62" font-weight="bold">Air</text>
<text transform="translate(1319,115) scale(1,1.04)" font-size="62" font-weight="bold">Air</text>
<text transform="translate(1879,115) scale(1,1.04)" font-size="62" font-weight="bold">Air</text>
<text transform="translate(913,115) scale(1,1.04)" font-size="62" font-weight="bold">N<tspan font-size="42" dy="14.5">2</tspan></text>
<text transform="translate(1478,115) scale(1,1.04)" font-size="62" font-weight="bold">N<tspan font-size="42" dy="14.5">2</tspan></text>
<rect x="297.5" y="30.5" width="1756" height="1316" fill="none" stroke="#000" stroke-width="7"/>
<rect x="300" y="185.0" width="28" height="7" fill="#000"/>
<text transform="translate(262.9,213.0) scale(1,1.04)" font-size="70" text-anchor="end">100</text>
<rect x="300" y="448.2" width="28" height="7" fill="#000"/>
<text transform="translate(262.9,476.2) scale(1,1.04)" font-size="70" text-anchor="end">95</text>
<rect x="300" y="711.5" width="28" height="7" fill="#000"/>
<text transform="translate(262.9,739.5) scale(1,1.04)" font-size="70" text-anchor="end">90</text>
<rect x="300" y="974.8" width="28" height="7" fill="#000"/>
<text transform="translate(262.9,1002.8) scale(1,1.04)" font-size="70" text-anchor="end">85</text>
<rect x="300" y="1238.0" width="28" height="7" fill="#000"/>
<text transform="translate(262.9,1266.0) scale(1,1.04)" font-size="70" text-anchor="end">80</text>
<rect x="336.6" y="1316" width="6.5" height="30" fill="#000"/>
<rect x="765.2" y="1316" width="6.5" height="30" fill="#000"/>
<rect x="1193.8" y="1316" width="6.5" height="30" fill="#000"/>
<rect x="1622.4" y="1316" width="6.5" height="30" fill="#000"/>
<rect x="551.5" y="1328" width="5.2" height="18" fill="#000"/>
<rect x="980.1" y="1328" width="5.2" height="18" fill="#000"/>
<rect x="1408.7" y="1328" width="5.2" height="18" fill="#000"/>
<rect x="1837.3" y="1328" width="5.2" height="18" fill="#000"/>
<text transform="translate(340.5,1445) scale(1,1.04)" font-size="70" text-anchor="middle">0</text>
<text transform="translate(769.0,1445) scale(1,1.04)" font-size="70" text-anchor="middle">60</text>
<text transform="translate(1197.6,1445) scale(1,1.04)" font-size="70" text-anchor="middle">120</text>
<text transform="translate(1626.2,1445) scale(1,1.04)" font-size="70" text-anchor="middle">180</text>
<text transform="translate(2054.8,1445) scale(1,1.04)" font-size="70" text-anchor="middle">240</text>
<text x="984.6" y="1557" font-size="93.8">time, min</text>
<text transform="translate(113,1043) rotate(-90) scale(1,1.015)" font-size="92.6">weight change %</text>
<rect x="432" y="1098" width="1500" height="205.5" fill="#fff" stroke="#000" stroke-width="6"/>
<line x1="467" y1="1161" x2="631" y2="1161" stroke="#ff0000" stroke-width="6"/>
<line x1="465" y1="1250" x2="629" y2="1250" stroke="#777777" stroke-width="6"/>
<line x1="1245.5" y1="1161" x2="1410" y2="1161" stroke="#0000ff" stroke-width="6"/>
<line x1="1243.5" y1="1250" x2="1408" y2="1250" stroke="#008000" stroke-width="6"/>
<text transform="translate(666.7,1174.2) scale(1,1.035)" font-size="70.5">La<tspan font-size="45.3" dy="22.3">2</tspan><tspan dy="-22.3">O</tspan><tspan font-size="45.3" dy="22.3">2</tspan><tspan dy="-22.3">SO</tspan><tspan font-size="45.3" dy="22.3">4</tspan></text>
<text transform="translate(663.8,1262.6) scale(1,1.035)" font-size="70.5">Cu-La<tspan font-size="45.3" dy="22.3">2</tspan><tspan dy="-22.3">O</tspan><tspan font-size="45.3" dy="22.3">2</tspan><tspan dy="-22.3">SO</tspan><tspan font-size="45.3" dy="22.3">4</tspan></text>
<text transform="translate(1442.6,1174.2) scale(1,1.035)" font-size="70.5">Mn-La<tspan font-size="45.3" dy="22.3">2</tspan><tspan dy="-22.3">O</tspan><tspan font-size="45.3" dy="22.3">2</tspan><tspan dy="-22.3">SO</tspan><tspan font-size="45.3" dy="22.3">4</tspan></text>
<text transform="translate(1442.7,1262.6) scale(1,1.035)" font-size="70.5">Co-La<tspan font-size="45.3" dy="22.3">2</tspan><tspan dy="-22.3">O</tspan><tspan font-size="45.3" dy="22.3">2</tspan><tspan dy="-22.3">SO</tspan><tspan font-size="45.3" dy="22.3">4</tspan></text>
</svg></body></html>
